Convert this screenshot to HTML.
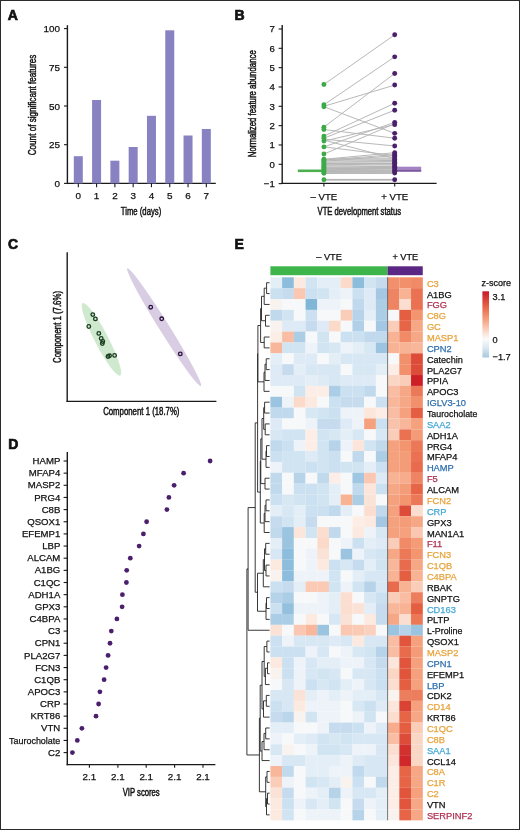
<!DOCTYPE html>
<html><head><meta charset="utf-8"><style>
html,body{margin:0;padding:0;background:#fff;}
svg{display:block;font-family:"Liberation Sans", sans-serif;will-change:transform;}
</style></head><body>
<svg width="520" height="830" viewBox="0 0 520 830">
<rect width="520" height="830" fill="#fff"/>
<text x="7.70" y="19.90" font-size="14.0" text-anchor="start" fill="#111" font-weight="bold" stroke="#111" stroke-width="0.7">A</text>
<text x="234.40" y="20.30" font-size="14.0" text-anchor="start" fill="#111" font-weight="bold" stroke="#111" stroke-width="0.7">B</text>
<text x="7.90" y="248.60" font-size="14.0" text-anchor="start" fill="#111" font-weight="bold" stroke="#111" stroke-width="0.7">C</text>
<text x="8.20" y="448.70" font-size="14.0" text-anchor="start" fill="#111" font-weight="bold" stroke="#111" stroke-width="0.7">D</text>
<text x="234.40" y="248.70" font-size="14.0" text-anchor="start" fill="#111" font-weight="bold" stroke="#111" stroke-width="0.7">E</text>
<line x1="67.40" y1="25.20" x2="67.40" y2="184.10" stroke="#1a1a1a" stroke-width="1.4" />
<line x1="66.70" y1="183.40" x2="215.80" y2="183.40" stroke="#1a1a1a" stroke-width="1.4" />
<line x1="64.00" y1="183.40" x2="67.40" y2="183.40" stroke="#1a1a1a" stroke-width="1.1" />
<text x="60.00" y="186.90" font-size="9.9" text-anchor="end" fill="#111" font-weight="normal" stroke="#111" stroke-width="0.25">0</text>
<line x1="64.00" y1="144.70" x2="67.40" y2="144.70" stroke="#1a1a1a" stroke-width="1.1" />
<text x="60.00" y="148.20" font-size="9.9" text-anchor="end" fill="#111" font-weight="normal" stroke="#111" stroke-width="0.25">25</text>
<line x1="64.00" y1="106.00" x2="67.40" y2="106.00" stroke="#1a1a1a" stroke-width="1.1" />
<text x="60.00" y="109.50" font-size="9.9" text-anchor="end" fill="#111" font-weight="normal" stroke="#111" stroke-width="0.25">50</text>
<line x1="64.00" y1="67.30" x2="67.40" y2="67.30" stroke="#1a1a1a" stroke-width="1.1" />
<text x="60.00" y="70.80" font-size="9.9" text-anchor="end" fill="#111" font-weight="normal" stroke="#111" stroke-width="0.25">75</text>
<line x1="64.00" y1="28.60" x2="67.40" y2="28.60" stroke="#1a1a1a" stroke-width="1.1" />
<text x="60.00" y="32.10" font-size="9.9" text-anchor="end" fill="#111" font-weight="normal" stroke="#111" stroke-width="0.25">100</text>
<rect x="73.80" y="156.20" width="9" height="27.20" fill="#8882c2"/>
<line x1="78.30" y1="183.40" x2="78.30" y2="187.20" stroke="#1a1a1a" stroke-width="1.1" />
<text x="78.30" y="199.10" font-size="9.9" text-anchor="middle" fill="#111" font-weight="normal" stroke="#111" stroke-width="0.25">0</text>
<rect x="92.09" y="100.00" width="9" height="83.40" fill="#8882c2"/>
<line x1="96.59" y1="183.40" x2="96.59" y2="187.20" stroke="#1a1a1a" stroke-width="1.1" />
<text x="96.59" y="199.10" font-size="9.9" text-anchor="middle" fill="#111" font-weight="normal" stroke="#111" stroke-width="0.25">1</text>
<rect x="110.38" y="160.70" width="9" height="22.70" fill="#8882c2"/>
<line x1="114.88" y1="183.40" x2="114.88" y2="187.20" stroke="#1a1a1a" stroke-width="1.1" />
<text x="114.88" y="199.10" font-size="9.9" text-anchor="middle" fill="#111" font-weight="normal" stroke="#111" stroke-width="0.25">2</text>
<rect x="128.67" y="147.00" width="9" height="36.40" fill="#8882c2"/>
<line x1="133.17" y1="183.40" x2="133.17" y2="187.20" stroke="#1a1a1a" stroke-width="1.1" />
<text x="133.17" y="199.10" font-size="9.9" text-anchor="middle" fill="#111" font-weight="normal" stroke="#111" stroke-width="0.25">3</text>
<rect x="146.96" y="115.80" width="9" height="67.60" fill="#8882c2"/>
<line x1="151.46" y1="183.40" x2="151.46" y2="187.20" stroke="#1a1a1a" stroke-width="1.1" />
<text x="151.46" y="199.10" font-size="9.9" text-anchor="middle" fill="#111" font-weight="normal" stroke="#111" stroke-width="0.25">4</text>
<rect x="165.25" y="30.30" width="9" height="153.10" fill="#8882c2"/>
<line x1="169.75" y1="183.40" x2="169.75" y2="187.20" stroke="#1a1a1a" stroke-width="1.1" />
<text x="169.75" y="199.10" font-size="9.9" text-anchor="middle" fill="#111" font-weight="normal" stroke="#111" stroke-width="0.25">5</text>
<rect x="183.54" y="135.50" width="9" height="47.90" fill="#8882c2"/>
<line x1="188.04" y1="183.40" x2="188.04" y2="187.20" stroke="#1a1a1a" stroke-width="1.1" />
<text x="188.04" y="199.10" font-size="9.9" text-anchor="middle" fill="#111" font-weight="normal" stroke="#111" stroke-width="0.25">6</text>
<rect x="201.83" y="129.00" width="9" height="54.40" fill="#8882c2"/>
<line x1="206.33" y1="183.40" x2="206.33" y2="187.20" stroke="#1a1a1a" stroke-width="1.1" />
<text x="206.33" y="199.10" font-size="9.9" text-anchor="middle" fill="#111" font-weight="normal" stroke="#111" stroke-width="0.25">7</text>
<text x="141.00" y="214.60" font-size="10.2" text-anchor="middle" fill="#111" stroke="#111" stroke-width="0.45" textLength="40.5" lengthAdjust="spacingAndGlyphs">Time (days)</text>
<text transform="translate(36.30,105.00) rotate(-90)" x="0" y="0" font-size="10.2" text-anchor="middle" fill="#111" stroke="#111" stroke-width="0.45" textLength="100.5" lengthAdjust="spacingAndGlyphs">Count of significant features</text>
<line x1="282.20" y1="25.00" x2="282.20" y2="184.10" stroke="#1a1a1a" stroke-width="1.4" />
<line x1="281.50" y1="183.40" x2="436.60" y2="183.40" stroke="#1a1a1a" stroke-width="1.4" />
<line x1="278.60" y1="183.63" x2="282.20" y2="183.63" stroke="#1a1a1a" stroke-width="1.1" />
<text x="274.80" y="187.08" font-size="9.6" text-anchor="end" fill="#111" font-weight="normal" stroke="#111" stroke-width="0.25">−1</text>
<line x1="278.60" y1="164.30" x2="282.20" y2="164.30" stroke="#1a1a1a" stroke-width="1.1" />
<text x="274.80" y="167.75" font-size="9.6" text-anchor="end" fill="#111" font-weight="normal" stroke="#111" stroke-width="0.25">0</text>
<line x1="278.60" y1="144.97" x2="282.20" y2="144.97" stroke="#1a1a1a" stroke-width="1.1" />
<text x="274.80" y="148.42" font-size="9.6" text-anchor="end" fill="#111" font-weight="normal" stroke="#111" stroke-width="0.25">1</text>
<line x1="278.60" y1="125.64" x2="282.20" y2="125.64" stroke="#1a1a1a" stroke-width="1.1" />
<text x="274.80" y="129.09" font-size="9.6" text-anchor="end" fill="#111" font-weight="normal" stroke="#111" stroke-width="0.25">2</text>
<line x1="278.60" y1="106.31" x2="282.20" y2="106.31" stroke="#1a1a1a" stroke-width="1.1" />
<text x="274.80" y="109.76" font-size="9.6" text-anchor="end" fill="#111" font-weight="normal" stroke="#111" stroke-width="0.25">3</text>
<line x1="278.60" y1="86.98" x2="282.20" y2="86.98" stroke="#1a1a1a" stroke-width="1.1" />
<text x="274.80" y="90.43" font-size="9.6" text-anchor="end" fill="#111" font-weight="normal" stroke="#111" stroke-width="0.25">4</text>
<line x1="278.60" y1="67.65" x2="282.20" y2="67.65" stroke="#1a1a1a" stroke-width="1.1" />
<text x="274.80" y="71.10" font-size="9.6" text-anchor="end" fill="#111" font-weight="normal" stroke="#111" stroke-width="0.25">5</text>
<line x1="278.60" y1="48.32" x2="282.20" y2="48.32" stroke="#1a1a1a" stroke-width="1.1" />
<text x="274.80" y="51.77" font-size="9.6" text-anchor="end" fill="#111" font-weight="normal" stroke="#111" stroke-width="0.25">6</text>
<line x1="278.60" y1="28.99" x2="282.20" y2="28.99" stroke="#1a1a1a" stroke-width="1.1" />
<text x="274.80" y="32.44" font-size="9.6" text-anchor="end" fill="#111" font-weight="normal" stroke="#111" stroke-width="0.25">7</text>
<line x1="323.90" y1="183.40" x2="323.90" y2="186.60" stroke="#1a1a1a" stroke-width="1.1" />
<line x1="394.70" y1="183.40" x2="394.70" y2="186.60" stroke="#1a1a1a" stroke-width="1.1" />
<text x="323.90" y="199.60" font-size="9.6" text-anchor="middle" fill="#111" font-weight="normal" stroke="#111" stroke-width="0.25">– VTE</text>
<text x="394.70" y="199.60" font-size="9.6" text-anchor="middle" fill="#111" font-weight="normal" stroke="#111" stroke-width="0.25">+ VTE</text>
<text x="359.30" y="214.60" font-size="10.2" text-anchor="middle" fill="#111" stroke="#111" stroke-width="0.45" textLength="83.5" lengthAdjust="spacingAndGlyphs">VTE development status</text>
<text transform="translate(256.20,103.70) rotate(-90)" x="0" y="0" font-size="10.2" text-anchor="middle" fill="#111" stroke="#111" stroke-width="0.45" textLength="107" lengthAdjust="spacingAndGlyphs">Normalized feature abundance</text>
<polygon points="323.9,158.50 394.7,157.34 394.7,173.97 323.9,173.97" fill="#c9c9c9"/>
<line x1="323.90" y1="84.47" x2="394.70" y2="34.79" stroke="#b4b4b4" stroke-width="0.95" />
<line x1="323.90" y1="104.76" x2="394.70" y2="56.83" stroke="#b4b4b4" stroke-width="0.95" />
<line x1="323.90" y1="106.31" x2="394.70" y2="85.05" stroke="#b4b4b4" stroke-width="0.95" />
<line x1="323.90" y1="106.70" x2="394.70" y2="133.37" stroke="#b4b4b4" stroke-width="0.95" />
<line x1="323.90" y1="127.19" x2="394.70" y2="73.45" stroke="#b4b4b4" stroke-width="0.95" />
<line x1="323.90" y1="129.51" x2="394.70" y2="138.20" stroke="#b4b4b4" stroke-width="0.95" />
<line x1="323.90" y1="136.08" x2="394.70" y2="103.22" stroke="#b4b4b4" stroke-width="0.95" />
<line x1="323.90" y1="138.20" x2="394.70" y2="110.18" stroke="#b4b4b4" stroke-width="0.95" />
<line x1="323.90" y1="141.10" x2="394.70" y2="124.67" stroke="#b4b4b4" stroke-width="0.95" />
<line x1="323.90" y1="139.17" x2="394.70" y2="145.94" stroke="#b4b4b4" stroke-width="0.95" />
<line x1="323.90" y1="146.90" x2="394.70" y2="122.35" stroke="#b4b4b4" stroke-width="0.95" />
<line x1="323.90" y1="154.06" x2="394.70" y2="123.71" stroke="#b4b4b4" stroke-width="0.95" />
<line x1="323.90" y1="146.90" x2="394.70" y2="155.60" stroke="#b4b4b4" stroke-width="0.95" />
<line x1="323.90" y1="140.14" x2="394.70" y2="158.50" stroke="#b4b4b4" stroke-width="0.95" />
<line x1="323.90" y1="159.27" x2="394.70" y2="152.70" stroke="#b4b4b4" stroke-width="0.95" />
<line x1="323.90" y1="160.05" x2="394.70" y2="154.64" stroke="#b4b4b4" stroke-width="0.95" />
<line x1="323.90" y1="161.40" x2="394.70" y2="155.60" stroke="#b4b4b4" stroke-width="0.95" />
<line x1="323.90" y1="179.76" x2="394.70" y2="179.76" stroke="#b4b4b4" stroke-width="0.95" />
<line x1="323.90" y1="179.38" x2="394.70" y2="179.38" stroke="#b4b4b4" stroke-width="0.95" />
<line x1="323.90" y1="180.15" x2="394.70" y2="180.15" stroke="#b4b4b4" stroke-width="0.95" />
<line x1="323.90" y1="162.77" x2="394.70" y2="160.33" stroke="#b4b4b4" stroke-width="0.95" />
<line x1="323.90" y1="163.43" x2="394.70" y2="161.16" stroke="#b4b4b4" stroke-width="0.95" />
<line x1="323.90" y1="163.90" x2="394.70" y2="163.37" stroke="#b4b4b4" stroke-width="0.95" />
<line x1="323.90" y1="165.71" x2="394.70" y2="162.55" stroke="#b4b4b4" stroke-width="0.95" />
<line x1="323.90" y1="166.19" x2="394.70" y2="164.92" stroke="#b4b4b4" stroke-width="0.95" />
<line x1="323.90" y1="165.91" x2="394.70" y2="165.34" stroke="#b4b4b4" stroke-width="0.95" />
<line x1="323.90" y1="167.02" x2="394.70" y2="166.29" stroke="#b4b4b4" stroke-width="0.95" />
<line x1="323.90" y1="168.19" x2="394.70" y2="168.01" stroke="#b4b4b4" stroke-width="0.95" />
<line x1="323.90" y1="169.06" x2="394.70" y2="167.31" stroke="#b4b4b4" stroke-width="0.95" />
<line x1="323.90" y1="170.09" x2="394.70" y2="168.57" stroke="#b4b4b4" stroke-width="0.95" />
<line x1="323.90" y1="170.73" x2="394.70" y2="171.11" stroke="#b4b4b4" stroke-width="0.95" />
<line x1="323.90" y1="171.45" x2="394.70" y2="170.85" stroke="#b4b4b4" stroke-width="0.95" />
<line x1="323.90" y1="173.02" x2="394.70" y2="173.12" stroke="#b4b4b4" stroke-width="0.95" />
<line x1="323.90" y1="173.01" x2="394.70" y2="173.06" stroke="#b4b4b4" stroke-width="0.95" />
<line x1="323.90" y1="161.98" x2="394.70" y2="162.37" stroke="#dedede" stroke-width="0.9" />
<line x1="323.90" y1="166.23" x2="394.70" y2="165.27" stroke="#dedede" stroke-width="0.9" />
<line x1="297.80" y1="170.80" x2="325.90" y2="170.80" stroke="#4cb050" stroke-width="2.6" />
<rect x="394.7" y="166.7" width="26.5" height="4.6" fill="#a384c2"/>
<line x1="394.70" y1="171.00" x2="421.20" y2="171.00" stroke="#5e3080" stroke-width="1.1" />
<circle cx="323.9" cy="84.47" r="2.45" fill="#3daa4a"/>
<circle cx="323.9" cy="104.76" r="2.45" fill="#3daa4a"/>
<circle cx="323.9" cy="106.70" r="2.45" fill="#3daa4a"/>
<circle cx="323.9" cy="127.19" r="2.45" fill="#3daa4a"/>
<circle cx="323.9" cy="129.51" r="2.45" fill="#3daa4a"/>
<circle cx="323.9" cy="136.08" r="2.45" fill="#3daa4a"/>
<circle cx="323.9" cy="138.20" r="2.45" fill="#3daa4a"/>
<circle cx="323.9" cy="141.10" r="2.45" fill="#3daa4a"/>
<circle cx="323.9" cy="146.90" r="2.45" fill="#3daa4a"/>
<circle cx="323.9" cy="154.06" r="2.45" fill="#3daa4a"/>
<circle cx="323.9" cy="179.76" r="2.45" fill="#3daa4a"/>
<circle cx="323.9" cy="159.27" r="2.45" fill="#3daa4a"/>
<circle cx="323.9" cy="160.43" r="2.45" fill="#3daa4a"/>
<circle cx="323.9" cy="161.59" r="2.45" fill="#3daa4a"/>
<circle cx="323.9" cy="162.75" r="2.45" fill="#3daa4a"/>
<circle cx="323.9" cy="163.91" r="2.45" fill="#3daa4a"/>
<circle cx="323.9" cy="165.07" r="2.45" fill="#3daa4a"/>
<circle cx="323.9" cy="166.23" r="2.45" fill="#3daa4a"/>
<circle cx="323.9" cy="167.39" r="2.45" fill="#3daa4a"/>
<circle cx="323.9" cy="168.55" r="2.45" fill="#3daa4a"/>
<circle cx="323.9" cy="169.71" r="2.45" fill="#3daa4a"/>
<circle cx="323.9" cy="170.87" r="2.45" fill="#3daa4a"/>
<circle cx="323.9" cy="172.03" r="2.45" fill="#3daa4a"/>
<circle cx="323.9" cy="173.19" r="2.45" fill="#3daa4a"/>
<circle cx="394.7" cy="34.79" r="2.45" fill="#4b1f6b"/>
<circle cx="394.7" cy="56.83" r="2.45" fill="#4b1f6b"/>
<circle cx="394.7" cy="73.45" r="2.45" fill="#4b1f6b"/>
<circle cx="394.7" cy="85.05" r="2.45" fill="#4b1f6b"/>
<circle cx="394.7" cy="103.22" r="2.45" fill="#4b1f6b"/>
<circle cx="394.7" cy="110.18" r="2.45" fill="#4b1f6b"/>
<circle cx="394.7" cy="122.35" r="2.45" fill="#4b1f6b"/>
<circle cx="394.7" cy="124.67" r="2.45" fill="#4b1f6b"/>
<circle cx="394.7" cy="133.37" r="2.45" fill="#4b1f6b"/>
<circle cx="394.7" cy="138.20" r="2.45" fill="#4b1f6b"/>
<circle cx="394.7" cy="145.94" r="2.45" fill="#4b1f6b"/>
<circle cx="394.7" cy="179.76" r="2.45" fill="#4b1f6b"/>
<circle cx="394.7" cy="152.70" r="2.45" fill="#4b1f6b"/>
<circle cx="394.7" cy="154.06" r="2.45" fill="#4b1f6b"/>
<circle cx="394.7" cy="155.41" r="2.45" fill="#4b1f6b"/>
<circle cx="394.7" cy="156.76" r="2.45" fill="#4b1f6b"/>
<circle cx="394.7" cy="158.11" r="2.45" fill="#4b1f6b"/>
<circle cx="394.7" cy="159.47" r="2.45" fill="#4b1f6b"/>
<circle cx="394.7" cy="160.82" r="2.45" fill="#4b1f6b"/>
<circle cx="394.7" cy="162.17" r="2.45" fill="#4b1f6b"/>
<circle cx="394.7" cy="163.53" r="2.45" fill="#4b1f6b"/>
<circle cx="394.7" cy="164.88" r="2.45" fill="#4b1f6b"/>
<circle cx="394.7" cy="166.23" r="2.45" fill="#4b1f6b"/>
<circle cx="394.7" cy="167.59" r="2.45" fill="#4b1f6b"/>
<circle cx="394.7" cy="168.94" r="2.45" fill="#4b1f6b"/>
<circle cx="394.7" cy="170.29" r="2.45" fill="#4b1f6b"/>
<circle cx="394.7" cy="171.65" r="2.45" fill="#4b1f6b"/>
<circle cx="394.7" cy="173.00" r="2.45" fill="#4b1f6b"/>
<line x1="67.20" y1="252.30" x2="67.20" y2="402.10" stroke="#1a1a1a" stroke-width="1.4" />
<line x1="66.50" y1="401.40" x2="216.40" y2="401.40" stroke="#1a1a1a" stroke-width="1.4" />
<ellipse cx="101.5" cy="339.3" rx="40.8" ry="6.8" transform="rotate(62.6 101.5 339.3)" fill="#cfe9cf"/>
<ellipse cx="164.1" cy="327.2" rx="69.4" ry="5.0" transform="rotate(58 164.1 327.2)" fill="#d8cde2"/>
<circle cx="92.8" cy="314.6" r="1.8" fill="none" stroke="#173a1c" stroke-width="1.3"/>
<circle cx="95.4" cy="318.9" r="1.8" fill="none" stroke="#173a1c" stroke-width="1.3"/>
<circle cx="88.8" cy="326.5" r="1.8" fill="none" stroke="#173a1c" stroke-width="1.3"/>
<circle cx="98.8" cy="333.4" r="1.8" fill="none" stroke="#173a1c" stroke-width="1.3"/>
<circle cx="101.2" cy="338.5" r="1.8" fill="none" stroke="#173a1c" stroke-width="1.3"/>
<circle cx="102.8" cy="341.5" r="1.8" fill="none" stroke="#173a1c" stroke-width="1.3"/>
<circle cx="102.3" cy="343.5" r="1.8" fill="none" stroke="#173a1c" stroke-width="1.3"/>
<circle cx="108.0" cy="356.5" r="1.8" fill="none" stroke="#173a1c" stroke-width="1.3"/>
<circle cx="109.5" cy="355.8" r="1.8" fill="none" stroke="#173a1c" stroke-width="1.3"/>
<circle cx="114.6" cy="355.4" r="1.8" fill="none" stroke="#173a1c" stroke-width="1.3"/>
<circle cx="150.7" cy="307.2" r="1.8" fill="none" stroke="#2a0f3c" stroke-width="1.3"/>
<circle cx="161.7" cy="318.8" r="1.8" fill="none" stroke="#2a0f3c" stroke-width="1.3"/>
<circle cx="180.3" cy="353.9" r="1.8" fill="none" stroke="#2a0f3c" stroke-width="1.3"/>
<text x="141.30" y="415.30" font-size="10.2" text-anchor="middle" fill="#111" stroke="#111" stroke-width="0.45" textLength="76.3" lengthAdjust="spacingAndGlyphs">Component 1 (18.7%)</text>
<text transform="translate(60.60,327.00) rotate(-90)" x="0" y="0" font-size="10.2" text-anchor="middle" fill="#111" stroke="#111" stroke-width="0.45" textLength="72" lengthAdjust="spacingAndGlyphs">Component 1 (7.6%)</text>
<line x1="67.30" y1="451.90" x2="67.30" y2="765.30" stroke="#1a1a1a" stroke-width="1.4" />
<line x1="66.60" y1="764.60" x2="215.40" y2="764.60" stroke="#1a1a1a" stroke-width="1.4" />
<line x1="63.60" y1="461.00" x2="67.30" y2="461.00" stroke="#1a1a1a" stroke-width="1.1" />
<text x="60.30" y="464.10" font-size="9.6" text-anchor="end" fill="#111" font-weight="normal" stroke="#111" stroke-width="0.25">HAMP</text>
<circle cx="210.1" cy="461.00" r="2.4" fill="#4b1f6b"/>
<line x1="63.60" y1="473.15" x2="67.30" y2="473.15" stroke="#1a1a1a" stroke-width="1.1" />
<text x="60.30" y="476.25" font-size="9.6" text-anchor="end" fill="#111" font-weight="normal" stroke="#111" stroke-width="0.25">MFAP4</text>
<circle cx="183.6" cy="473.15" r="2.4" fill="#4b1f6b"/>
<line x1="63.60" y1="485.30" x2="67.30" y2="485.30" stroke="#1a1a1a" stroke-width="1.1" />
<text x="60.30" y="488.40" font-size="9.6" text-anchor="end" fill="#111" font-weight="normal" stroke="#111" stroke-width="0.25">MASP2</text>
<circle cx="174.1" cy="485.30" r="2.4" fill="#4b1f6b"/>
<line x1="63.60" y1="497.45" x2="67.30" y2="497.45" stroke="#1a1a1a" stroke-width="1.1" />
<text x="60.30" y="500.55" font-size="9.6" text-anchor="end" fill="#111" font-weight="normal" stroke="#111" stroke-width="0.25">PRG4</text>
<circle cx="168.9" cy="497.45" r="2.4" fill="#4b1f6b"/>
<line x1="63.60" y1="509.60" x2="67.30" y2="509.60" stroke="#1a1a1a" stroke-width="1.1" />
<text x="60.30" y="512.70" font-size="9.6" text-anchor="end" fill="#111" font-weight="normal" stroke="#111" stroke-width="0.25">C8B</text>
<circle cx="166.9" cy="509.60" r="2.4" fill="#4b1f6b"/>
<line x1="63.60" y1="521.75" x2="67.30" y2="521.75" stroke="#1a1a1a" stroke-width="1.1" />
<text x="60.30" y="524.85" font-size="9.6" text-anchor="end" fill="#111" font-weight="normal" stroke="#111" stroke-width="0.25">QSOX1</text>
<circle cx="146.6" cy="521.75" r="2.4" fill="#4b1f6b"/>
<line x1="63.60" y1="533.90" x2="67.30" y2="533.90" stroke="#1a1a1a" stroke-width="1.1" />
<text x="60.30" y="537.00" font-size="9.6" text-anchor="end" fill="#111" font-weight="normal" stroke="#111" stroke-width="0.25">EFEMP1</text>
<circle cx="143.4" cy="533.90" r="2.4" fill="#4b1f6b"/>
<line x1="63.60" y1="546.05" x2="67.30" y2="546.05" stroke="#1a1a1a" stroke-width="1.1" />
<text x="60.30" y="549.15" font-size="9.6" text-anchor="end" fill="#111" font-weight="normal" stroke="#111" stroke-width="0.25">LBP</text>
<circle cx="139.1" cy="546.05" r="2.4" fill="#4b1f6b"/>
<line x1="63.60" y1="558.20" x2="67.30" y2="558.20" stroke="#1a1a1a" stroke-width="1.1" />
<text x="60.30" y="561.30" font-size="9.6" text-anchor="end" fill="#111" font-weight="normal" stroke="#111" stroke-width="0.25">ALCAM</text>
<circle cx="130.3" cy="558.20" r="2.4" fill="#4b1f6b"/>
<line x1="63.60" y1="570.35" x2="67.30" y2="570.35" stroke="#1a1a1a" stroke-width="1.1" />
<text x="60.30" y="573.45" font-size="9.6" text-anchor="end" fill="#111" font-weight="normal" stroke="#111" stroke-width="0.25">A1BG</text>
<circle cx="126.7" cy="570.35" r="2.4" fill="#4b1f6b"/>
<line x1="63.60" y1="582.50" x2="67.30" y2="582.50" stroke="#1a1a1a" stroke-width="1.1" />
<text x="60.30" y="585.60" font-size="9.6" text-anchor="end" fill="#111" font-weight="normal" stroke="#111" stroke-width="0.25">C1QC</text>
<circle cx="126.4" cy="582.50" r="2.4" fill="#4b1f6b"/>
<line x1="63.60" y1="594.65" x2="67.30" y2="594.65" stroke="#1a1a1a" stroke-width="1.1" />
<text x="60.30" y="597.75" font-size="9.6" text-anchor="end" fill="#111" font-weight="normal" stroke="#111" stroke-width="0.25">ADH1A</text>
<circle cx="122.4" cy="594.65" r="2.4" fill="#4b1f6b"/>
<line x1="63.60" y1="606.80" x2="67.30" y2="606.80" stroke="#1a1a1a" stroke-width="1.1" />
<text x="60.30" y="609.90" font-size="9.6" text-anchor="end" fill="#111" font-weight="normal" stroke="#111" stroke-width="0.25">GPX3</text>
<circle cx="122.1" cy="606.80" r="2.4" fill="#4b1f6b"/>
<line x1="63.60" y1="618.95" x2="67.30" y2="618.95" stroke="#1a1a1a" stroke-width="1.1" />
<text x="60.30" y="622.05" font-size="9.6" text-anchor="end" fill="#111" font-weight="normal" stroke="#111" stroke-width="0.25">C4BPA</text>
<circle cx="116.9" cy="618.95" r="2.4" fill="#4b1f6b"/>
<line x1="63.60" y1="631.10" x2="67.30" y2="631.10" stroke="#1a1a1a" stroke-width="1.1" />
<text x="60.30" y="634.20" font-size="9.6" text-anchor="end" fill="#111" font-weight="normal" stroke="#111" stroke-width="0.25">C3</text>
<circle cx="111.3" cy="631.10" r="2.4" fill="#4b1f6b"/>
<line x1="63.60" y1="643.25" x2="67.30" y2="643.25" stroke="#1a1a1a" stroke-width="1.1" />
<text x="60.30" y="646.35" font-size="9.6" text-anchor="end" fill="#111" font-weight="normal" stroke="#111" stroke-width="0.25">CPN1</text>
<circle cx="110.0" cy="643.25" r="2.4" fill="#4b1f6b"/>
<line x1="63.60" y1="655.40" x2="67.30" y2="655.40" stroke="#1a1a1a" stroke-width="1.1" />
<text x="60.30" y="658.50" font-size="9.6" text-anchor="end" fill="#111" font-weight="normal" stroke="#111" stroke-width="0.25">PLA2G7</text>
<circle cx="108.1" cy="655.40" r="2.4" fill="#4b1f6b"/>
<line x1="63.60" y1="667.55" x2="67.30" y2="667.55" stroke="#1a1a1a" stroke-width="1.1" />
<text x="60.30" y="670.65" font-size="9.6" text-anchor="end" fill="#111" font-weight="normal" stroke="#111" stroke-width="0.25">FCN3</text>
<circle cx="106.1" cy="667.55" r="2.4" fill="#4b1f6b"/>
<line x1="63.60" y1="679.70" x2="67.30" y2="679.70" stroke="#1a1a1a" stroke-width="1.1" />
<text x="60.30" y="682.80" font-size="9.6" text-anchor="end" fill="#111" font-weight="normal" stroke="#111" stroke-width="0.25">C1QB</text>
<circle cx="104.1" cy="679.70" r="2.4" fill="#4b1f6b"/>
<line x1="63.60" y1="691.85" x2="67.30" y2="691.85" stroke="#1a1a1a" stroke-width="1.1" />
<text x="60.30" y="694.95" font-size="9.6" text-anchor="end" fill="#111" font-weight="normal" stroke="#111" stroke-width="0.25">APOC3</text>
<circle cx="99.9" cy="691.85" r="2.4" fill="#4b1f6b"/>
<line x1="63.60" y1="704.00" x2="67.30" y2="704.00" stroke="#1a1a1a" stroke-width="1.1" />
<text x="60.30" y="707.10" font-size="9.6" text-anchor="end" fill="#111" font-weight="normal" stroke="#111" stroke-width="0.25">CRP</text>
<circle cx="98.6" cy="704.00" r="2.4" fill="#4b1f6b"/>
<line x1="63.60" y1="716.15" x2="67.30" y2="716.15" stroke="#1a1a1a" stroke-width="1.1" />
<text x="60.30" y="719.25" font-size="9.6" text-anchor="end" fill="#111" font-weight="normal" stroke="#111" stroke-width="0.25">KRT86</text>
<circle cx="96.0" cy="716.15" r="2.4" fill="#4b1f6b"/>
<line x1="63.60" y1="728.30" x2="67.30" y2="728.30" stroke="#1a1a1a" stroke-width="1.1" />
<text x="60.30" y="731.40" font-size="9.6" text-anchor="end" fill="#111" font-weight="normal" stroke="#111" stroke-width="0.25">VTN</text>
<circle cx="81.9" cy="728.30" r="2.4" fill="#4b1f6b"/>
<line x1="63.60" y1="740.45" x2="67.30" y2="740.45" stroke="#1a1a1a" stroke-width="1.1" />
<text x="60.3" y="743.55" font-size="9.6" text-anchor="end" fill="#111" stroke="#111" stroke-width="0.25" textLength="51.3" lengthAdjust="spacingAndGlyphs">Taurocholate</text>
<circle cx="77.3" cy="740.45" r="2.4" fill="#4b1f6b"/>
<line x1="63.60" y1="752.60" x2="67.30" y2="752.60" stroke="#1a1a1a" stroke-width="1.1" />
<text x="60.30" y="755.70" font-size="9.6" text-anchor="end" fill="#111" font-weight="normal" stroke="#111" stroke-width="0.25">C2</text>
<circle cx="72.4" cy="752.60" r="2.4" fill="#4b1f6b"/>
<line x1="89.40" y1="764.60" x2="89.40" y2="767.80" stroke="#1a1a1a" stroke-width="1.1" />
<text x="89.40" y="779.80" font-size="9.8" text-anchor="middle" fill="#111" font-weight="normal" stroke="#111" stroke-width="0.25">2.1</text>
<line x1="117.90" y1="764.60" x2="117.90" y2="767.80" stroke="#1a1a1a" stroke-width="1.1" />
<text x="117.90" y="779.80" font-size="9.8" text-anchor="middle" fill="#111" font-weight="normal" stroke="#111" stroke-width="0.25">2.1</text>
<line x1="146.20" y1="764.60" x2="146.20" y2="767.80" stroke="#1a1a1a" stroke-width="1.1" />
<text x="146.20" y="779.80" font-size="9.8" text-anchor="middle" fill="#111" font-weight="normal" stroke="#111" stroke-width="0.25">2.1</text>
<line x1="174.60" y1="764.60" x2="174.60" y2="767.80" stroke="#1a1a1a" stroke-width="1.1" />
<text x="174.60" y="779.80" font-size="9.8" text-anchor="middle" fill="#111" font-weight="normal" stroke="#111" stroke-width="0.25">2.1</text>
<line x1="203.00" y1="764.60" x2="203.00" y2="767.80" stroke="#1a1a1a" stroke-width="1.1" />
<text x="203.00" y="779.80" font-size="9.8" text-anchor="middle" fill="#111" font-weight="normal" stroke="#111" stroke-width="0.25">2.1</text>
<text x="141.20" y="796.00" font-size="10.2" text-anchor="middle" fill="#111" stroke="#111" stroke-width="0.45" textLength="37" lengthAdjust="spacingAndGlyphs">VIP scores</text>
<text x="329.00" y="260.20" font-size="9.2" text-anchor="middle" fill="#111" font-weight="normal" stroke="#111" stroke-width="0.25">– VTE</text>
<text x="405.30" y="260.20" font-size="9.2" text-anchor="middle" fill="#111" font-weight="normal" stroke="#111" stroke-width="0.25">+ VTE</text>
<rect x="270.4" y="266.3" width="117.20" height="8.9" fill="#3db54a"/>
<rect x="387.60" y="266.3" width="35.16" height="8.9" fill="#5b2784"/>
<rect x="270.40" y="277.30" width="11.77" height="10.91" fill="#e4eef7"/>
<rect x="282.12" y="277.30" width="11.77" height="10.91" fill="#8cbddc"/>
<rect x="293.84" y="277.30" width="11.77" height="10.91" fill="#fceae0"/>
<rect x="305.56" y="277.30" width="11.77" height="10.91" fill="#d1e4f2"/>
<rect x="317.28" y="277.30" width="11.77" height="10.91" fill="#e4eef7"/>
<rect x="329.00" y="277.30" width="11.77" height="10.91" fill="#e4eef7"/>
<rect x="340.72" y="277.30" width="11.77" height="10.91" fill="#fbdaca"/>
<rect x="352.44" y="277.30" width="11.77" height="10.91" fill="#8cbddc"/>
<rect x="364.16" y="277.30" width="11.77" height="10.91" fill="#d1e4f2"/>
<rect x="375.88" y="277.30" width="11.77" height="10.91" fill="#c6dcee"/>
<rect x="387.60" y="277.30" width="11.77" height="10.91" fill="#f1906b"/>
<rect x="399.32" y="277.30" width="11.77" height="10.91" fill="#f1906b"/>
<rect x="411.04" y="277.30" width="11.77" height="10.91" fill="#f08a67"/>
<rect x="270.40" y="288.16" width="11.77" height="10.91" fill="#cbe0f0"/>
<rect x="282.12" y="288.16" width="11.77" height="10.91" fill="#c6dcee"/>
<rect x="293.84" y="288.16" width="11.77" height="10.91" fill="#fac8b2"/>
<rect x="305.56" y="288.16" width="11.77" height="10.91" fill="#cbe0f0"/>
<rect x="317.28" y="288.16" width="11.77" height="10.91" fill="#d1e4f2"/>
<rect x="329.00" y="288.16" width="11.77" height="10.91" fill="#e4eef7"/>
<rect x="340.72" y="288.16" width="11.77" height="10.91" fill="#edf3f8"/>
<rect x="352.44" y="288.16" width="11.77" height="10.91" fill="#cbe0f0"/>
<rect x="364.16" y="288.16" width="11.77" height="10.91" fill="#deeaf5"/>
<rect x="375.88" y="288.16" width="11.77" height="10.91" fill="#a4c8e3"/>
<rect x="387.60" y="288.16" width="11.77" height="10.91" fill="#ee8462"/>
<rect x="399.32" y="288.16" width="11.77" height="10.91" fill="#f8b294"/>
<rect x="411.04" y="288.16" width="11.77" height="10.91" fill="#ea7252"/>
<rect x="270.40" y="299.02" width="11.77" height="10.91" fill="#f9f3f0"/>
<rect x="282.12" y="299.02" width="11.77" height="10.91" fill="#f6f8fa"/>
<rect x="293.84" y="299.02" width="11.77" height="10.91" fill="#f6f8fa"/>
<rect x="305.56" y="299.02" width="11.77" height="10.91" fill="#80b7d7"/>
<rect x="317.28" y="299.02" width="11.77" height="10.91" fill="#edf3f8"/>
<rect x="329.00" y="299.02" width="11.77" height="10.91" fill="#edf3f8"/>
<rect x="340.72" y="299.02" width="11.77" height="10.91" fill="#f6f8fa"/>
<rect x="352.44" y="299.02" width="11.77" height="10.91" fill="#c0d9ec"/>
<rect x="364.16" y="299.02" width="11.77" height="10.91" fill="#deeaf5"/>
<rect x="375.88" y="299.02" width="11.77" height="10.91" fill="#accde6"/>
<rect x="387.60" y="299.02" width="11.77" height="10.91" fill="#ee8462"/>
<rect x="399.32" y="299.02" width="11.77" height="10.91" fill="#fbded0"/>
<rect x="411.04" y="299.02" width="11.77" height="10.91" fill="#ea7252"/>
<rect x="270.40" y="309.88" width="11.77" height="10.91" fill="#c0d9ec"/>
<rect x="282.12" y="309.88" width="11.77" height="10.91" fill="#d1e4f2"/>
<rect x="293.84" y="309.88" width="11.77" height="10.91" fill="#f6f8fa"/>
<rect x="305.56" y="309.88" width="11.77" height="10.91" fill="#cbe0f0"/>
<rect x="317.28" y="309.88" width="11.77" height="10.91" fill="#f6f8fa"/>
<rect x="329.00" y="309.88" width="11.77" height="10.91" fill="#f6f8fa"/>
<rect x="340.72" y="309.88" width="11.77" height="10.91" fill="#facdb9"/>
<rect x="352.44" y="309.88" width="11.77" height="10.91" fill="#b6d3e9"/>
<rect x="364.16" y="309.88" width="11.77" height="10.91" fill="#e4eef7"/>
<rect x="375.88" y="309.88" width="11.77" height="10.91" fill="#accde6"/>
<rect x="387.60" y="309.88" width="11.77" height="10.91" fill="#f6f8fa"/>
<rect x="399.32" y="309.88" width="11.77" height="10.91" fill="#e45e42"/>
<rect x="411.04" y="309.88" width="11.77" height="10.91" fill="#f39670"/>
<rect x="270.40" y="320.74" width="11.77" height="10.91" fill="#f9f3f0"/>
<rect x="282.12" y="320.74" width="11.77" height="10.91" fill="#deeaf5"/>
<rect x="293.84" y="320.74" width="11.77" height="10.91" fill="#deeaf5"/>
<rect x="305.56" y="320.74" width="11.77" height="10.91" fill="#c6dcee"/>
<rect x="317.28" y="320.74" width="11.77" height="10.91" fill="#deeaf5"/>
<rect x="329.00" y="320.74" width="11.77" height="10.91" fill="#fbdaca"/>
<rect x="340.72" y="320.74" width="11.77" height="10.91" fill="#f6f8fa"/>
<rect x="352.44" y="320.74" width="11.77" height="10.91" fill="#b1d0e8"/>
<rect x="364.16" y="320.74" width="11.77" height="10.91" fill="#f6f8fa"/>
<rect x="375.88" y="320.74" width="11.77" height="10.91" fill="#a4c8e3"/>
<rect x="387.60" y="320.74" width="11.77" height="10.91" fill="#facdb9"/>
<rect x="399.32" y="320.74" width="11.77" height="10.91" fill="#e66547"/>
<rect x="411.04" y="320.74" width="11.77" height="10.91" fill="#f6a786"/>
<rect x="270.40" y="331.60" width="11.77" height="10.91" fill="#fceee6"/>
<rect x="282.12" y="331.60" width="11.77" height="10.91" fill="#f9bda3"/>
<rect x="293.84" y="331.60" width="11.77" height="10.91" fill="#accde6"/>
<rect x="305.56" y="331.60" width="11.77" height="10.91" fill="#f6f8fa"/>
<rect x="317.28" y="331.60" width="11.77" height="10.91" fill="#d1e4f2"/>
<rect x="329.00" y="331.60" width="11.77" height="10.91" fill="#f6f8fa"/>
<rect x="340.72" y="331.60" width="11.77" height="10.91" fill="#cbe0f0"/>
<rect x="352.44" y="331.60" width="11.77" height="10.91" fill="#cbe0f0"/>
<rect x="364.16" y="331.60" width="11.77" height="10.91" fill="#c0d9ec"/>
<rect x="375.88" y="331.60" width="11.77" height="10.91" fill="#c0d9ec"/>
<rect x="387.60" y="331.60" width="11.77" height="10.91" fill="#f8b294"/>
<rect x="399.32" y="331.60" width="11.77" height="10.91" fill="#f08a67"/>
<rect x="411.04" y="331.60" width="11.77" height="10.91" fill="#f6a786"/>
<rect x="270.40" y="342.46" width="11.77" height="10.91" fill="#f8b79b"/>
<rect x="282.12" y="342.46" width="11.77" height="10.91" fill="#d1e4f2"/>
<rect x="293.84" y="342.46" width="11.77" height="10.91" fill="#d1e4f2"/>
<rect x="305.56" y="342.46" width="11.77" height="10.91" fill="#edf3f8"/>
<rect x="317.28" y="342.46" width="11.77" height="10.91" fill="#d1e4f2"/>
<rect x="329.00" y="342.46" width="11.77" height="10.91" fill="#d7e7f3"/>
<rect x="340.72" y="342.46" width="11.77" height="10.91" fill="#edf3f8"/>
<rect x="352.44" y="342.46" width="11.77" height="10.91" fill="#e4eef7"/>
<rect x="364.16" y="342.46" width="11.77" height="10.91" fill="#d7e7f3"/>
<rect x="375.88" y="342.46" width="11.77" height="10.91" fill="#9bc4e0"/>
<rect x="387.60" y="342.46" width="11.77" height="10.91" fill="#f8b294"/>
<rect x="399.32" y="342.46" width="11.77" height="10.91" fill="#f8b294"/>
<rect x="411.04" y="342.46" width="11.77" height="10.91" fill="#f8b79b"/>
<rect x="270.40" y="353.32" width="11.77" height="10.91" fill="#e4eef7"/>
<rect x="282.12" y="353.32" width="11.77" height="10.91" fill="#f6f8fa"/>
<rect x="293.84" y="353.32" width="11.77" height="10.91" fill="#deeaf5"/>
<rect x="305.56" y="353.32" width="11.77" height="10.91" fill="#deeaf5"/>
<rect x="317.28" y="353.32" width="11.77" height="10.91" fill="#f6f8fa"/>
<rect x="329.00" y="353.32" width="11.77" height="10.91" fill="#e4eef7"/>
<rect x="340.72" y="353.32" width="11.77" height="10.91" fill="#d7e7f3"/>
<rect x="352.44" y="353.32" width="11.77" height="10.91" fill="#d7e7f3"/>
<rect x="364.16" y="353.32" width="11.77" height="10.91" fill="#d7e7f3"/>
<rect x="375.88" y="353.32" width="11.77" height="10.91" fill="#d7e7f3"/>
<rect x="387.60" y="353.32" width="11.77" height="10.91" fill="#f6f8fa"/>
<rect x="399.32" y="353.32" width="11.77" height="10.91" fill="#f1906b"/>
<rect x="411.04" y="353.32" width="11.77" height="10.91" fill="#dd4b39"/>
<rect x="270.40" y="364.18" width="11.77" height="10.91" fill="#deeaf5"/>
<rect x="282.12" y="364.18" width="11.77" height="10.91" fill="#c6dcee"/>
<rect x="293.84" y="364.18" width="11.77" height="10.91" fill="#e4eef7"/>
<rect x="305.56" y="364.18" width="11.77" height="10.91" fill="#d7e7f3"/>
<rect x="317.28" y="364.18" width="11.77" height="10.91" fill="#d7e7f3"/>
<rect x="329.00" y="364.18" width="11.77" height="10.91" fill="#d7e7f3"/>
<rect x="340.72" y="364.18" width="11.77" height="10.91" fill="#f6f8fa"/>
<rect x="352.44" y="364.18" width="11.77" height="10.91" fill="#d7e7f3"/>
<rect x="364.16" y="364.18" width="11.77" height="10.91" fill="#d7e7f3"/>
<rect x="375.88" y="364.18" width="11.77" height="10.91" fill="#e4eef7"/>
<rect x="387.60" y="364.18" width="11.77" height="10.91" fill="#fceee6"/>
<rect x="399.32" y="364.18" width="11.77" height="10.91" fill="#f1906b"/>
<rect x="411.04" y="364.18" width="11.77" height="10.91" fill="#dd4b39"/>
<rect x="270.40" y="375.04" width="11.77" height="10.91" fill="#deeaf5"/>
<rect x="282.12" y="375.04" width="11.77" height="10.91" fill="#deeaf5"/>
<rect x="293.84" y="375.04" width="11.77" height="10.91" fill="#deeaf5"/>
<rect x="305.56" y="375.04" width="11.77" height="10.91" fill="#e4eef7"/>
<rect x="317.28" y="375.04" width="11.77" height="10.91" fill="#deeaf5"/>
<rect x="329.00" y="375.04" width="11.77" height="10.91" fill="#d7e7f3"/>
<rect x="340.72" y="375.04" width="11.77" height="10.91" fill="#deeaf5"/>
<rect x="352.44" y="375.04" width="11.77" height="10.91" fill="#deeaf5"/>
<rect x="364.16" y="375.04" width="11.77" height="10.91" fill="#deeaf5"/>
<rect x="375.88" y="375.04" width="11.77" height="10.91" fill="#f6f8fa"/>
<rect x="387.60" y="375.04" width="11.77" height="10.91" fill="#fad6c4"/>
<rect x="399.32" y="375.04" width="11.77" height="10.91" fill="#facdb9"/>
<rect x="411.04" y="375.04" width="11.77" height="10.91" fill="#cc1f26"/>
<rect x="270.40" y="385.90" width="11.77" height="10.91" fill="#f6f8fa"/>
<rect x="282.12" y="385.90" width="11.77" height="10.91" fill="#f6f8fa"/>
<rect x="293.84" y="385.90" width="11.77" height="10.91" fill="#d1e4f2"/>
<rect x="305.56" y="385.90" width="11.77" height="10.91" fill="#fceee6"/>
<rect x="317.28" y="385.90" width="11.77" height="10.91" fill="#fceee6"/>
<rect x="329.00" y="385.90" width="11.77" height="10.91" fill="#accde6"/>
<rect x="340.72" y="385.90" width="11.77" height="10.91" fill="#cbe0f0"/>
<rect x="352.44" y="385.90" width="11.77" height="10.91" fill="#cbe0f0"/>
<rect x="364.16" y="385.90" width="11.77" height="10.91" fill="#c0d9ec"/>
<rect x="375.88" y="385.90" width="11.77" height="10.91" fill="#f6f8fa"/>
<rect x="387.60" y="385.90" width="11.77" height="10.91" fill="#f9bda3"/>
<rect x="399.32" y="385.90" width="11.77" height="10.91" fill="#f6a786"/>
<rect x="411.04" y="385.90" width="11.77" height="10.91" fill="#eb7857"/>
<rect x="270.40" y="396.76" width="11.77" height="10.91" fill="#9bc4e0"/>
<rect x="282.12" y="396.76" width="11.77" height="10.91" fill="#edf3f8"/>
<rect x="293.84" y="396.76" width="11.77" height="10.91" fill="#fbdaca"/>
<rect x="305.56" y="396.76" width="11.77" height="10.91" fill="#fceae0"/>
<rect x="317.28" y="396.76" width="11.77" height="10.91" fill="#f6f8fa"/>
<rect x="329.00" y="396.76" width="11.77" height="10.91" fill="#cbe0f0"/>
<rect x="340.72" y="396.76" width="11.77" height="10.91" fill="#c6dcee"/>
<rect x="352.44" y="396.76" width="11.77" height="10.91" fill="#c6dcee"/>
<rect x="364.16" y="396.76" width="11.77" height="10.91" fill="#f6f8fa"/>
<rect x="375.88" y="396.76" width="11.77" height="10.91" fill="#cbe0f0"/>
<rect x="387.60" y="396.76" width="11.77" height="10.91" fill="#f8b79b"/>
<rect x="399.32" y="396.76" width="11.77" height="10.91" fill="#f6a786"/>
<rect x="411.04" y="396.76" width="11.77" height="10.91" fill="#f1906b"/>
<rect x="270.40" y="407.62" width="11.77" height="10.91" fill="#c0d9ec"/>
<rect x="282.12" y="407.62" width="11.77" height="10.91" fill="#c0d9ec"/>
<rect x="293.84" y="407.62" width="11.77" height="10.91" fill="#f6f8fa"/>
<rect x="305.56" y="407.62" width="11.77" height="10.91" fill="#d7e7f3"/>
<rect x="317.28" y="407.62" width="11.77" height="10.91" fill="#d1e4f2"/>
<rect x="329.00" y="407.62" width="11.77" height="10.91" fill="#cbe0f0"/>
<rect x="340.72" y="407.62" width="11.77" height="10.91" fill="#edf3f8"/>
<rect x="352.44" y="407.62" width="11.77" height="10.91" fill="#edf3f8"/>
<rect x="364.16" y="407.62" width="11.77" height="10.91" fill="#fce6db"/>
<rect x="375.88" y="407.62" width="11.77" height="10.91" fill="#fceee6"/>
<rect x="387.60" y="407.62" width="11.77" height="10.91" fill="#f9bda3"/>
<rect x="399.32" y="407.62" width="11.77" height="10.91" fill="#f5a17e"/>
<rect x="411.04" y="407.62" width="11.77" height="10.91" fill="#e45e42"/>
<rect x="270.40" y="418.48" width="11.77" height="10.91" fill="#deeaf5"/>
<rect x="282.12" y="418.48" width="11.77" height="10.91" fill="#f6f8fa"/>
<rect x="293.84" y="418.48" width="11.77" height="10.91" fill="#f6f8fa"/>
<rect x="305.56" y="418.48" width="11.77" height="10.91" fill="#edf3f8"/>
<rect x="317.28" y="418.48" width="11.77" height="10.91" fill="#c6dcee"/>
<rect x="329.00" y="418.48" width="11.77" height="10.91" fill="#c6dcee"/>
<rect x="340.72" y="418.48" width="11.77" height="10.91" fill="#deeaf5"/>
<rect x="352.44" y="418.48" width="11.77" height="10.91" fill="#edf3f8"/>
<rect x="364.16" y="418.48" width="11.77" height="10.91" fill="#f5a17e"/>
<rect x="375.88" y="418.48" width="11.77" height="10.91" fill="#cbe0f0"/>
<rect x="387.60" y="418.48" width="11.77" height="10.91" fill="#f9c2aa"/>
<rect x="399.32" y="418.48" width="11.77" height="10.91" fill="#f8b79b"/>
<rect x="411.04" y="418.48" width="11.77" height="10.91" fill="#f5a17e"/>
<rect x="270.40" y="429.34" width="11.77" height="10.91" fill="#d7e7f3"/>
<rect x="282.12" y="429.34" width="11.77" height="10.91" fill="#d1e4f2"/>
<rect x="293.84" y="429.34" width="11.77" height="10.91" fill="#d1e4f2"/>
<rect x="305.56" y="429.34" width="11.77" height="10.91" fill="#fceee6"/>
<rect x="317.28" y="429.34" width="11.77" height="10.91" fill="#d1e4f2"/>
<rect x="329.00" y="429.34" width="11.77" height="10.91" fill="#d7e7f3"/>
<rect x="340.72" y="429.34" width="11.77" height="10.91" fill="#e4eef7"/>
<rect x="352.44" y="429.34" width="11.77" height="10.91" fill="#d7e7f3"/>
<rect x="364.16" y="429.34" width="11.77" height="10.91" fill="#f6f8fa"/>
<rect x="375.88" y="429.34" width="11.77" height="10.91" fill="#d7e7f3"/>
<rect x="387.60" y="429.34" width="11.77" height="10.91" fill="#facdb9"/>
<rect x="399.32" y="429.34" width="11.77" height="10.91" fill="#ea7252"/>
<rect x="411.04" y="429.34" width="11.77" height="10.91" fill="#f49c77"/>
<rect x="270.40" y="440.20" width="11.77" height="10.91" fill="#c0d9ec"/>
<rect x="282.12" y="440.20" width="11.77" height="10.91" fill="#cbe0f0"/>
<rect x="293.84" y="440.20" width="11.77" height="10.91" fill="#edf3f8"/>
<rect x="305.56" y="440.20" width="11.77" height="10.91" fill="#fceee6"/>
<rect x="317.28" y="440.20" width="11.77" height="10.91" fill="#d1e4f2"/>
<rect x="329.00" y="440.20" width="11.77" height="10.91" fill="#b6d3e9"/>
<rect x="340.72" y="440.20" width="11.77" height="10.91" fill="#edf3f8"/>
<rect x="352.44" y="440.20" width="11.77" height="10.91" fill="#fce6db"/>
<rect x="364.16" y="440.20" width="11.77" height="10.91" fill="#d1e4f2"/>
<rect x="375.88" y="440.20" width="11.77" height="10.91" fill="#c0d9ec"/>
<rect x="387.60" y="440.20" width="11.77" height="10.91" fill="#f5a17e"/>
<rect x="399.32" y="440.20" width="11.77" height="10.91" fill="#f39670"/>
<rect x="411.04" y="440.20" width="11.77" height="10.91" fill="#eb7857"/>
<rect x="270.40" y="451.06" width="11.77" height="10.91" fill="#cbe0f0"/>
<rect x="282.12" y="451.06" width="11.77" height="10.91" fill="#d1e4f2"/>
<rect x="293.84" y="451.06" width="11.77" height="10.91" fill="#d1e4f2"/>
<rect x="305.56" y="451.06" width="11.77" height="10.91" fill="#deeaf5"/>
<rect x="317.28" y="451.06" width="11.77" height="10.91" fill="#d1e4f2"/>
<rect x="329.00" y="451.06" width="11.77" height="10.91" fill="#cbe0f0"/>
<rect x="340.72" y="451.06" width="11.77" height="10.91" fill="#f6f8fa"/>
<rect x="352.44" y="451.06" width="11.77" height="10.91" fill="#c0d9ec"/>
<rect x="364.16" y="451.06" width="11.77" height="10.91" fill="#f6f8fa"/>
<rect x="375.88" y="451.06" width="11.77" height="10.91" fill="#accde6"/>
<rect x="387.60" y="451.06" width="11.77" height="10.91" fill="#f5a17e"/>
<rect x="399.32" y="451.06" width="11.77" height="10.91" fill="#f49c77"/>
<rect x="411.04" y="451.06" width="11.77" height="10.91" fill="#ea7252"/>
<rect x="270.40" y="461.92" width="11.77" height="10.91" fill="#edf3f8"/>
<rect x="282.12" y="461.92" width="11.77" height="10.91" fill="#d1e4f2"/>
<rect x="293.84" y="461.92" width="11.77" height="10.91" fill="#d1e4f2"/>
<rect x="305.56" y="461.92" width="11.77" height="10.91" fill="#cbe0f0"/>
<rect x="317.28" y="461.92" width="11.77" height="10.91" fill="#d1e4f2"/>
<rect x="329.00" y="461.92" width="11.77" height="10.91" fill="#cbe0f0"/>
<rect x="340.72" y="461.92" width="11.77" height="10.91" fill="#d1e4f2"/>
<rect x="352.44" y="461.92" width="11.77" height="10.91" fill="#d1e4f2"/>
<rect x="364.16" y="461.92" width="11.77" height="10.91" fill="#e4eef7"/>
<rect x="375.88" y="461.92" width="11.77" height="10.91" fill="#cbe0f0"/>
<rect x="387.60" y="461.92" width="11.77" height="10.91" fill="#f5a17e"/>
<rect x="399.32" y="461.92" width="11.77" height="10.91" fill="#f49c77"/>
<rect x="411.04" y="461.92" width="11.77" height="10.91" fill="#e86b4d"/>
<rect x="270.40" y="472.78" width="11.77" height="10.91" fill="#c0d9ec"/>
<rect x="282.12" y="472.78" width="11.77" height="10.91" fill="#f6f8fa"/>
<rect x="293.84" y="472.78" width="11.77" height="10.91" fill="#b6d3e9"/>
<rect x="305.56" y="472.78" width="11.77" height="10.91" fill="#f6f8fa"/>
<rect x="317.28" y="472.78" width="11.77" height="10.91" fill="#c0d9ec"/>
<rect x="329.00" y="472.78" width="11.77" height="10.91" fill="#fceee6"/>
<rect x="340.72" y="472.78" width="11.77" height="10.91" fill="#f6f8fa"/>
<rect x="352.44" y="472.78" width="11.77" height="10.91" fill="#9fc6e2"/>
<rect x="364.16" y="472.78" width="11.77" height="10.91" fill="#fac8b2"/>
<rect x="375.88" y="472.78" width="11.77" height="10.91" fill="#deeaf5"/>
<rect x="387.60" y="472.78" width="11.77" height="10.91" fill="#f8b294"/>
<rect x="399.32" y="472.78" width="11.77" height="10.91" fill="#f7ac8d"/>
<rect x="411.04" y="472.78" width="11.77" height="10.91" fill="#ee8462"/>
<rect x="270.40" y="483.64" width="11.77" height="10.91" fill="#c0d9ec"/>
<rect x="282.12" y="483.64" width="11.77" height="10.91" fill="#f6f8fa"/>
<rect x="293.84" y="483.64" width="11.77" height="10.91" fill="#cbe0f0"/>
<rect x="305.56" y="483.64" width="11.77" height="10.91" fill="#cbe0f0"/>
<rect x="317.28" y="483.64" width="11.77" height="10.91" fill="#d1e4f2"/>
<rect x="329.00" y="483.64" width="11.77" height="10.91" fill="#e4eef7"/>
<rect x="340.72" y="483.64" width="11.77" height="10.91" fill="#f6f8fa"/>
<rect x="352.44" y="483.64" width="11.77" height="10.91" fill="#c0d9ec"/>
<rect x="364.16" y="483.64" width="11.77" height="10.91" fill="#fce6db"/>
<rect x="375.88" y="483.64" width="11.77" height="10.91" fill="#cbe0f0"/>
<rect x="387.60" y="483.64" width="11.77" height="10.91" fill="#f6a786"/>
<rect x="399.32" y="483.64" width="11.77" height="10.91" fill="#f49c77"/>
<rect x="411.04" y="483.64" width="11.77" height="10.91" fill="#e66547"/>
<rect x="270.40" y="494.50" width="11.77" height="10.91" fill="#cbe0f0"/>
<rect x="282.12" y="494.50" width="11.77" height="10.91" fill="#d7e7f3"/>
<rect x="293.84" y="494.50" width="11.77" height="10.91" fill="#d1e4f2"/>
<rect x="305.56" y="494.50" width="11.77" height="10.91" fill="#cbe0f0"/>
<rect x="317.28" y="494.50" width="11.77" height="10.91" fill="#d1e4f2"/>
<rect x="329.00" y="494.50" width="11.77" height="10.91" fill="#e4eef7"/>
<rect x="340.72" y="494.50" width="11.77" height="10.91" fill="#f8b294"/>
<rect x="352.44" y="494.50" width="11.77" height="10.91" fill="#accde6"/>
<rect x="364.16" y="494.50" width="11.77" height="10.91" fill="#fbe2d6"/>
<rect x="375.88" y="494.50" width="11.77" height="10.91" fill="#f6f8fa"/>
<rect x="387.60" y="494.50" width="11.77" height="10.91" fill="#f5a17e"/>
<rect x="399.32" y="494.50" width="11.77" height="10.91" fill="#f39670"/>
<rect x="411.04" y="494.50" width="11.77" height="10.91" fill="#eb7857"/>
<rect x="270.40" y="505.36" width="11.77" height="10.91" fill="#e4eef7"/>
<rect x="282.12" y="505.36" width="11.77" height="10.91" fill="#d7e7f3"/>
<rect x="293.84" y="505.36" width="11.77" height="10.91" fill="#e4eef7"/>
<rect x="305.56" y="505.36" width="11.77" height="10.91" fill="#cbe0f0"/>
<rect x="317.28" y="505.36" width="11.77" height="10.91" fill="#cbe0f0"/>
<rect x="329.00" y="505.36" width="11.77" height="10.91" fill="#c0d9ec"/>
<rect x="340.72" y="505.36" width="11.77" height="10.91" fill="#e4eef7"/>
<rect x="352.44" y="505.36" width="11.77" height="10.91" fill="#f6f8fa"/>
<rect x="364.16" y="505.36" width="11.77" height="10.91" fill="#fbded0"/>
<rect x="375.88" y="505.36" width="11.77" height="10.91" fill="#c0d9ec"/>
<rect x="387.60" y="505.36" width="11.77" height="10.91" fill="#f5a17e"/>
<rect x="399.32" y="505.36" width="11.77" height="10.91" fill="#dd4b39"/>
<rect x="411.04" y="505.36" width="11.77" height="10.91" fill="#fbded0"/>
<rect x="270.40" y="516.22" width="11.77" height="10.91" fill="#c6dcee"/>
<rect x="282.12" y="516.22" width="11.77" height="10.91" fill="#d1e4f2"/>
<rect x="293.84" y="516.22" width="11.77" height="10.91" fill="#e4eef7"/>
<rect x="305.56" y="516.22" width="11.77" height="10.91" fill="#c6dcee"/>
<rect x="317.28" y="516.22" width="11.77" height="10.91" fill="#f6f8fa"/>
<rect x="329.00" y="516.22" width="11.77" height="10.91" fill="#f6f8fa"/>
<rect x="340.72" y="516.22" width="11.77" height="10.91" fill="#f6f8fa"/>
<rect x="352.44" y="516.22" width="11.77" height="10.91" fill="#fceee6"/>
<rect x="364.16" y="516.22" width="11.77" height="10.91" fill="#fceae0"/>
<rect x="375.88" y="516.22" width="11.77" height="10.91" fill="#a4c8e3"/>
<rect x="387.60" y="516.22" width="11.77" height="10.91" fill="#f5a17e"/>
<rect x="399.32" y="516.22" width="11.77" height="10.91" fill="#f49c77"/>
<rect x="411.04" y="516.22" width="11.77" height="10.91" fill="#f6a786"/>
<rect x="270.40" y="527.08" width="11.77" height="10.91" fill="#c0d9ec"/>
<rect x="282.12" y="527.08" width="11.77" height="10.91" fill="#9bc4e0"/>
<rect x="293.84" y="527.08" width="11.77" height="10.91" fill="#fce6db"/>
<rect x="305.56" y="527.08" width="11.77" height="10.91" fill="#d1e4f2"/>
<rect x="317.28" y="527.08" width="11.77" height="10.91" fill="#fbded0"/>
<rect x="329.00" y="527.08" width="11.77" height="10.91" fill="#c0d9ec"/>
<rect x="340.72" y="527.08" width="11.77" height="10.91" fill="#f6f8fa"/>
<rect x="352.44" y="527.08" width="11.77" height="10.91" fill="#fceae0"/>
<rect x="364.16" y="527.08" width="11.77" height="10.91" fill="#edf3f8"/>
<rect x="375.88" y="527.08" width="11.77" height="10.91" fill="#d7e7f3"/>
<rect x="387.60" y="527.08" width="11.77" height="10.91" fill="#f5a17e"/>
<rect x="399.32" y="527.08" width="11.77" height="10.91" fill="#f5a17e"/>
<rect x="411.04" y="527.08" width="11.77" height="10.91" fill="#fac8b2"/>
<rect x="270.40" y="537.94" width="11.77" height="10.91" fill="#e4eef7"/>
<rect x="282.12" y="537.94" width="11.77" height="10.91" fill="#9bc4e0"/>
<rect x="293.84" y="537.94" width="11.77" height="10.91" fill="#f6f8fa"/>
<rect x="305.56" y="537.94" width="11.77" height="10.91" fill="#f6f8fa"/>
<rect x="317.28" y="537.94" width="11.77" height="10.91" fill="#fbdaca"/>
<rect x="329.00" y="537.94" width="11.77" height="10.91" fill="#f6f8fa"/>
<rect x="340.72" y="537.94" width="11.77" height="10.91" fill="#edf3f8"/>
<rect x="352.44" y="537.94" width="11.77" height="10.91" fill="#cbe0f0"/>
<rect x="364.16" y="537.94" width="11.77" height="10.91" fill="#e4eef7"/>
<rect x="375.88" y="537.94" width="11.77" height="10.91" fill="#deeaf5"/>
<rect x="387.60" y="537.94" width="11.77" height="10.91" fill="#facdb9"/>
<rect x="399.32" y="537.94" width="11.77" height="10.91" fill="#f08a67"/>
<rect x="411.04" y="537.94" width="11.77" height="10.91" fill="#f49c77"/>
<rect x="270.40" y="548.80" width="11.77" height="10.91" fill="#d7e7f3"/>
<rect x="282.12" y="548.80" width="11.77" height="10.91" fill="#8cbddc"/>
<rect x="293.84" y="548.80" width="11.77" height="10.91" fill="#f6f8fa"/>
<rect x="305.56" y="548.80" width="11.77" height="10.91" fill="#edf3f8"/>
<rect x="317.28" y="548.80" width="11.77" height="10.91" fill="#fbe2d6"/>
<rect x="329.00" y="548.80" width="11.77" height="10.91" fill="#f6f8fa"/>
<rect x="340.72" y="548.80" width="11.77" height="10.91" fill="#9bc4e0"/>
<rect x="352.44" y="548.80" width="11.77" height="10.91" fill="#edf3f8"/>
<rect x="364.16" y="548.80" width="11.77" height="10.91" fill="#d7e7f3"/>
<rect x="375.88" y="548.80" width="11.77" height="10.91" fill="#d1e4f2"/>
<rect x="387.60" y="548.80" width="11.77" height="10.91" fill="#f6a786"/>
<rect x="399.32" y="548.80" width="11.77" height="10.91" fill="#eb7857"/>
<rect x="411.04" y="548.80" width="11.77" height="10.91" fill="#f39670"/>
<rect x="270.40" y="559.66" width="11.77" height="10.91" fill="#fceae0"/>
<rect x="282.12" y="559.66" width="11.77" height="10.91" fill="#8cbddc"/>
<rect x="293.84" y="559.66" width="11.77" height="10.91" fill="#f6f8fa"/>
<rect x="305.56" y="559.66" width="11.77" height="10.91" fill="#edf3f8"/>
<rect x="317.28" y="559.66" width="11.77" height="10.91" fill="#fceae0"/>
<rect x="329.00" y="559.66" width="11.77" height="10.91" fill="#cbe0f0"/>
<rect x="340.72" y="559.66" width="11.77" height="10.91" fill="#d7e7f3"/>
<rect x="352.44" y="559.66" width="11.77" height="10.91" fill="#c6dcee"/>
<rect x="364.16" y="559.66" width="11.77" height="10.91" fill="#e4eef7"/>
<rect x="375.88" y="559.66" width="11.77" height="10.91" fill="#d1e4f2"/>
<rect x="387.60" y="559.66" width="11.77" height="10.91" fill="#f8b79b"/>
<rect x="399.32" y="559.66" width="11.77" height="10.91" fill="#e86b4d"/>
<rect x="411.04" y="559.66" width="11.77" height="10.91" fill="#f6a786"/>
<rect x="270.40" y="570.52" width="11.77" height="10.91" fill="#f9f3f0"/>
<rect x="282.12" y="570.52" width="11.77" height="10.91" fill="#8cbddc"/>
<rect x="293.84" y="570.52" width="11.77" height="10.91" fill="#edf3f8"/>
<rect x="305.56" y="570.52" width="11.77" height="10.91" fill="#edf3f8"/>
<rect x="317.28" y="570.52" width="11.77" height="10.91" fill="#edf3f8"/>
<rect x="329.00" y="570.52" width="11.77" height="10.91" fill="#d1e4f2"/>
<rect x="340.72" y="570.52" width="11.77" height="10.91" fill="#f6f8fa"/>
<rect x="352.44" y="570.52" width="11.77" height="10.91" fill="#e4eef7"/>
<rect x="364.16" y="570.52" width="11.77" height="10.91" fill="#d7e7f3"/>
<rect x="375.88" y="570.52" width="11.77" height="10.91" fill="#d7e7f3"/>
<rect x="387.60" y="570.52" width="11.77" height="10.91" fill="#f8b294"/>
<rect x="399.32" y="570.52" width="11.77" height="10.91" fill="#e45e42"/>
<rect x="411.04" y="570.52" width="11.77" height="10.91" fill="#f8b294"/>
<rect x="270.40" y="581.38" width="11.77" height="10.91" fill="#cbe0f0"/>
<rect x="282.12" y="581.38" width="11.77" height="10.91" fill="#c6dcee"/>
<rect x="293.84" y="581.38" width="11.77" height="10.91" fill="#e4eef7"/>
<rect x="305.56" y="581.38" width="11.77" height="10.91" fill="#facab5"/>
<rect x="317.28" y="581.38" width="11.77" height="10.91" fill="#facab5"/>
<rect x="329.00" y="581.38" width="11.77" height="10.91" fill="#d1e4f2"/>
<rect x="340.72" y="581.38" width="11.77" height="10.91" fill="#edf3f8"/>
<rect x="352.44" y="581.38" width="11.77" height="10.91" fill="#d1e4f2"/>
<rect x="364.16" y="581.38" width="11.77" height="10.91" fill="#b6d3e9"/>
<rect x="375.88" y="581.38" width="11.77" height="10.91" fill="#d7e7f3"/>
<rect x="387.60" y="581.38" width="11.77" height="10.91" fill="#e86b4d"/>
<rect x="399.32" y="581.38" width="11.77" height="10.91" fill="#f8b294"/>
<rect x="411.04" y="581.38" width="11.77" height="10.91" fill="#facdb9"/>
<rect x="270.40" y="592.24" width="11.77" height="10.91" fill="#b6d3e9"/>
<rect x="282.12" y="592.24" width="11.77" height="10.91" fill="#accde6"/>
<rect x="293.84" y="592.24" width="11.77" height="10.91" fill="#f6f8fa"/>
<rect x="305.56" y="592.24" width="11.77" height="10.91" fill="#f6f8fa"/>
<rect x="317.28" y="592.24" width="11.77" height="10.91" fill="#edf3f8"/>
<rect x="329.00" y="592.24" width="11.77" height="10.91" fill="#e4eef7"/>
<rect x="340.72" y="592.24" width="11.77" height="10.91" fill="#fbded0"/>
<rect x="352.44" y="592.24" width="11.77" height="10.91" fill="#f6f8fa"/>
<rect x="364.16" y="592.24" width="11.77" height="10.91" fill="#d7e7f3"/>
<rect x="375.88" y="592.24" width="11.77" height="10.91" fill="#cbe0f0"/>
<rect x="387.60" y="592.24" width="11.77" height="10.91" fill="#facdb9"/>
<rect x="399.32" y="592.24" width="11.77" height="10.91" fill="#f9bda3"/>
<rect x="411.04" y="592.24" width="11.77" height="10.91" fill="#ed7e5d"/>
<rect x="270.40" y="603.10" width="11.77" height="10.91" fill="#cbe0f0"/>
<rect x="282.12" y="603.10" width="11.77" height="10.91" fill="#94c0de"/>
<rect x="293.84" y="603.10" width="11.77" height="10.91" fill="#edf3f8"/>
<rect x="305.56" y="603.10" width="11.77" height="10.91" fill="#edf3f8"/>
<rect x="317.28" y="603.10" width="11.77" height="10.91" fill="#edf3f8"/>
<rect x="329.00" y="603.10" width="11.77" height="10.91" fill="#e4eef7"/>
<rect x="340.72" y="603.10" width="11.77" height="10.91" fill="#fbded0"/>
<rect x="352.44" y="603.10" width="11.77" height="10.91" fill="#fbe2d6"/>
<rect x="364.16" y="603.10" width="11.77" height="10.91" fill="#e4eef7"/>
<rect x="375.88" y="603.10" width="11.77" height="10.91" fill="#c6dcee"/>
<rect x="387.60" y="603.10" width="11.77" height="10.91" fill="#f8b79b"/>
<rect x="399.32" y="603.10" width="11.77" height="10.91" fill="#f8b294"/>
<rect x="411.04" y="603.10" width="11.77" height="10.91" fill="#e45e42"/>
<rect x="270.40" y="613.96" width="11.77" height="10.91" fill="#accde6"/>
<rect x="282.12" y="613.96" width="11.77" height="10.91" fill="#accde6"/>
<rect x="293.84" y="613.96" width="11.77" height="10.91" fill="#f6f8fa"/>
<rect x="305.56" y="613.96" width="11.77" height="10.91" fill="#fceae0"/>
<rect x="317.28" y="613.96" width="11.77" height="10.91" fill="#f6f8fa"/>
<rect x="329.00" y="613.96" width="11.77" height="10.91" fill="#d7e7f3"/>
<rect x="340.72" y="613.96" width="11.77" height="10.91" fill="#fbe2d6"/>
<rect x="352.44" y="613.96" width="11.77" height="10.91" fill="#f6f8fa"/>
<rect x="364.16" y="613.96" width="11.77" height="10.91" fill="#fceae0"/>
<rect x="375.88" y="613.96" width="11.77" height="10.91" fill="#c6dcee"/>
<rect x="387.60" y="613.96" width="11.77" height="10.91" fill="#f6a786"/>
<rect x="399.32" y="613.96" width="11.77" height="10.91" fill="#fbded0"/>
<rect x="411.04" y="613.96" width="11.77" height="10.91" fill="#eb7857"/>
<rect x="270.40" y="624.82" width="11.77" height="10.91" fill="#fbe2d6"/>
<rect x="282.12" y="624.82" width="11.77" height="10.91" fill="#f6f8fa"/>
<rect x="293.84" y="624.82" width="11.77" height="10.91" fill="#fac8b2"/>
<rect x="305.56" y="624.82" width="11.77" height="10.91" fill="#f8b79b"/>
<rect x="317.28" y="624.82" width="11.77" height="10.91" fill="#9bc4e0"/>
<rect x="329.00" y="624.82" width="11.77" height="10.91" fill="#f6f8fa"/>
<rect x="340.72" y="624.82" width="11.77" height="10.91" fill="#fac8b2"/>
<rect x="352.44" y="624.82" width="11.77" height="10.91" fill="#facab5"/>
<rect x="364.16" y="624.82" width="11.77" height="10.91" fill="#fad1bf"/>
<rect x="375.88" y="624.82" width="11.77" height="10.91" fill="#f6f8fa"/>
<rect x="387.60" y="624.82" width="11.77" height="10.91" fill="#9bc4e0"/>
<rect x="399.32" y="624.82" width="11.77" height="10.91" fill="#b6d3e9"/>
<rect x="411.04" y="624.82" width="11.77" height="10.91" fill="#9bc4e0"/>
<rect x="270.40" y="635.68" width="11.77" height="10.91" fill="#cbe0f0"/>
<rect x="282.12" y="635.68" width="11.77" height="10.91" fill="#edf3f8"/>
<rect x="293.84" y="635.68" width="11.77" height="10.91" fill="#d7e7f3"/>
<rect x="305.56" y="635.68" width="11.77" height="10.91" fill="#d7e7f3"/>
<rect x="317.28" y="635.68" width="11.77" height="10.91" fill="#d7e7f3"/>
<rect x="329.00" y="635.68" width="11.77" height="10.91" fill="#deeaf5"/>
<rect x="340.72" y="635.68" width="11.77" height="10.91" fill="#d7e7f3"/>
<rect x="352.44" y="635.68" width="11.77" height="10.91" fill="#fceae0"/>
<rect x="364.16" y="635.68" width="11.77" height="10.91" fill="#d7e7f3"/>
<rect x="375.88" y="635.68" width="11.77" height="10.91" fill="#d7e7f3"/>
<rect x="387.60" y="635.68" width="11.77" height="10.91" fill="#f9bda3"/>
<rect x="399.32" y="635.68" width="11.77" height="10.91" fill="#e1553d"/>
<rect x="411.04" y="635.68" width="11.77" height="10.91" fill="#f5a17e"/>
<rect x="270.40" y="646.54" width="11.77" height="10.91" fill="#cbe0f0"/>
<rect x="282.12" y="646.54" width="11.77" height="10.91" fill="#cbe0f0"/>
<rect x="293.84" y="646.54" width="11.77" height="10.91" fill="#cbe0f0"/>
<rect x="305.56" y="646.54" width="11.77" height="10.91" fill="#edf3f8"/>
<rect x="317.28" y="646.54" width="11.77" height="10.91" fill="#d7e7f3"/>
<rect x="329.00" y="646.54" width="11.77" height="10.91" fill="#f6f8fa"/>
<rect x="340.72" y="646.54" width="11.77" height="10.91" fill="#edf3f8"/>
<rect x="352.44" y="646.54" width="11.77" height="10.91" fill="#d7e7f3"/>
<rect x="364.16" y="646.54" width="11.77" height="10.91" fill="#d1e4f2"/>
<rect x="375.88" y="646.54" width="11.77" height="10.91" fill="#b6d3e9"/>
<rect x="387.60" y="646.54" width="11.77" height="10.91" fill="#f9bda3"/>
<rect x="399.32" y="646.54" width="11.77" height="10.91" fill="#e86b4d"/>
<rect x="411.04" y="646.54" width="11.77" height="10.91" fill="#f49c77"/>
<rect x="270.40" y="657.40" width="11.77" height="10.91" fill="#fceae0"/>
<rect x="282.12" y="657.40" width="11.77" height="10.91" fill="#cbe0f0"/>
<rect x="293.84" y="657.40" width="11.77" height="10.91" fill="#edf3f8"/>
<rect x="305.56" y="657.40" width="11.77" height="10.91" fill="#d7e7f3"/>
<rect x="317.28" y="657.40" width="11.77" height="10.91" fill="#e4eef7"/>
<rect x="329.00" y="657.40" width="11.77" height="10.91" fill="#e4eef7"/>
<rect x="340.72" y="657.40" width="11.77" height="10.91" fill="#edf3f8"/>
<rect x="352.44" y="657.40" width="11.77" height="10.91" fill="#edf3f8"/>
<rect x="364.16" y="657.40" width="11.77" height="10.91" fill="#d7e7f3"/>
<rect x="375.88" y="657.40" width="11.77" height="10.91" fill="#c6dcee"/>
<rect x="387.60" y="657.40" width="11.77" height="10.91" fill="#fce6db"/>
<rect x="399.32" y="657.40" width="11.77" height="10.91" fill="#e1553d"/>
<rect x="411.04" y="657.40" width="11.77" height="10.91" fill="#f5a17e"/>
<rect x="270.40" y="668.26" width="11.77" height="10.91" fill="#f9f3f0"/>
<rect x="282.12" y="668.26" width="11.77" height="10.91" fill="#cbe0f0"/>
<rect x="293.84" y="668.26" width="11.77" height="10.91" fill="#edf3f8"/>
<rect x="305.56" y="668.26" width="11.77" height="10.91" fill="#d7e7f3"/>
<rect x="317.28" y="668.26" width="11.77" height="10.91" fill="#d1e4f2"/>
<rect x="329.00" y="668.26" width="11.77" height="10.91" fill="#d7e7f3"/>
<rect x="340.72" y="668.26" width="11.77" height="10.91" fill="#f6f8fa"/>
<rect x="352.44" y="668.26" width="11.77" height="10.91" fill="#d7e7f3"/>
<rect x="364.16" y="668.26" width="11.77" height="10.91" fill="#d7e7f3"/>
<rect x="375.88" y="668.26" width="11.77" height="10.91" fill="#cbe0f0"/>
<rect x="387.60" y="668.26" width="11.77" height="10.91" fill="#fad6c4"/>
<rect x="399.32" y="668.26" width="11.77" height="10.91" fill="#e1553d"/>
<rect x="411.04" y="668.26" width="11.77" height="10.91" fill="#f5a17e"/>
<rect x="270.40" y="679.12" width="11.77" height="10.91" fill="#f6f8fa"/>
<rect x="282.12" y="679.12" width="11.77" height="10.91" fill="#d7e7f3"/>
<rect x="293.84" y="679.12" width="11.77" height="10.91" fill="#edf3f8"/>
<rect x="305.56" y="679.12" width="11.77" height="10.91" fill="#cbe0f0"/>
<rect x="317.28" y="679.12" width="11.77" height="10.91" fill="#d7e7f3"/>
<rect x="329.00" y="679.12" width="11.77" height="10.91" fill="#d1e4f2"/>
<rect x="340.72" y="679.12" width="11.77" height="10.91" fill="#e4eef7"/>
<rect x="352.44" y="679.12" width="11.77" height="10.91" fill="#edf3f8"/>
<rect x="364.16" y="679.12" width="11.77" height="10.91" fill="#d7e7f3"/>
<rect x="375.88" y="679.12" width="11.77" height="10.91" fill="#cbe0f0"/>
<rect x="387.60" y="679.12" width="11.77" height="10.91" fill="#fbded0"/>
<rect x="399.32" y="679.12" width="11.77" height="10.91" fill="#e45e42"/>
<rect x="411.04" y="679.12" width="11.77" height="10.91" fill="#f5a17e"/>
<rect x="270.40" y="689.98" width="11.77" height="10.91" fill="#d7e7f3"/>
<rect x="282.12" y="689.98" width="11.77" height="10.91" fill="#d7e7f3"/>
<rect x="293.84" y="689.98" width="11.77" height="10.91" fill="#fbe2d6"/>
<rect x="305.56" y="689.98" width="11.77" height="10.91" fill="#e4eef7"/>
<rect x="317.28" y="689.98" width="11.77" height="10.91" fill="#edf3f8"/>
<rect x="329.00" y="689.98" width="11.77" height="10.91" fill="#e4eef7"/>
<rect x="340.72" y="689.98" width="11.77" height="10.91" fill="#edf3f8"/>
<rect x="352.44" y="689.98" width="11.77" height="10.91" fill="#e4eef7"/>
<rect x="364.16" y="689.98" width="11.77" height="10.91" fill="#e4eef7"/>
<rect x="375.88" y="689.98" width="11.77" height="10.91" fill="#d7e7f3"/>
<rect x="387.60" y="689.98" width="11.77" height="10.91" fill="#f9f3f0"/>
<rect x="399.32" y="689.98" width="11.77" height="10.91" fill="#ed7e5d"/>
<rect x="411.04" y="689.98" width="11.77" height="10.91" fill="#ed7e5d"/>
<rect x="270.40" y="700.84" width="11.77" height="10.91" fill="#cbe0f0"/>
<rect x="282.12" y="700.84" width="11.77" height="10.91" fill="#d7e7f3"/>
<rect x="293.84" y="700.84" width="11.77" height="10.91" fill="#fceae0"/>
<rect x="305.56" y="700.84" width="11.77" height="10.91" fill="#edf3f8"/>
<rect x="317.28" y="700.84" width="11.77" height="10.91" fill="#edf3f8"/>
<rect x="329.00" y="700.84" width="11.77" height="10.91" fill="#edf3f8"/>
<rect x="340.72" y="700.84" width="11.77" height="10.91" fill="#f6f8fa"/>
<rect x="352.44" y="700.84" width="11.77" height="10.91" fill="#d7e7f3"/>
<rect x="364.16" y="700.84" width="11.77" height="10.91" fill="#cbe0f0"/>
<rect x="375.88" y="700.84" width="11.77" height="10.91" fill="#deeaf5"/>
<rect x="387.60" y="700.84" width="11.77" height="10.91" fill="#fce6db"/>
<rect x="399.32" y="700.84" width="11.77" height="10.91" fill="#da4234"/>
<rect x="411.04" y="700.84" width="11.77" height="10.91" fill="#f5a17e"/>
<rect x="270.40" y="711.70" width="11.77" height="10.91" fill="#c6dcee"/>
<rect x="282.12" y="711.70" width="11.77" height="10.91" fill="#bbd6ea"/>
<rect x="293.84" y="711.70" width="11.77" height="10.91" fill="#f9f3f0"/>
<rect x="305.56" y="711.70" width="11.77" height="10.91" fill="#d1e4f2"/>
<rect x="317.28" y="711.70" width="11.77" height="10.91" fill="#edf3f8"/>
<rect x="329.00" y="711.70" width="11.77" height="10.91" fill="#edf3f8"/>
<rect x="340.72" y="711.70" width="11.77" height="10.91" fill="#f6f8fa"/>
<rect x="352.44" y="711.70" width="11.77" height="10.91" fill="#edf3f8"/>
<rect x="364.16" y="711.70" width="11.77" height="10.91" fill="#d1e4f2"/>
<rect x="375.88" y="711.70" width="11.77" height="10.91" fill="#f6f8fa"/>
<rect x="387.60" y="711.70" width="11.77" height="10.91" fill="#fbded0"/>
<rect x="399.32" y="711.70" width="11.77" height="10.91" fill="#e66547"/>
<rect x="411.04" y="711.70" width="11.77" height="10.91" fill="#f6a786"/>
<rect x="270.40" y="722.56" width="11.77" height="10.91" fill="#e4eef7"/>
<rect x="282.12" y="722.56" width="11.77" height="10.91" fill="#e4eef7"/>
<rect x="293.84" y="722.56" width="11.77" height="10.91" fill="#f6f8fa"/>
<rect x="305.56" y="722.56" width="11.77" height="10.91" fill="#f6f8fa"/>
<rect x="317.28" y="722.56" width="11.77" height="10.91" fill="#edf3f8"/>
<rect x="329.00" y="722.56" width="11.77" height="10.91" fill="#c6dcee"/>
<rect x="340.72" y="722.56" width="11.77" height="10.91" fill="#c6dcee"/>
<rect x="352.44" y="722.56" width="11.77" height="10.91" fill="#cbe0f0"/>
<rect x="364.16" y="722.56" width="11.77" height="10.91" fill="#edf3f8"/>
<rect x="375.88" y="722.56" width="11.77" height="10.91" fill="#deeaf5"/>
<rect x="387.60" y="722.56" width="11.77" height="10.91" fill="#f7ac8d"/>
<rect x="399.32" y="722.56" width="11.77" height="10.91" fill="#e45e42"/>
<rect x="411.04" y="722.56" width="11.77" height="10.91" fill="#facdb9"/>
<rect x="270.40" y="733.42" width="11.77" height="10.91" fill="#edf3f8"/>
<rect x="282.12" y="733.42" width="11.77" height="10.91" fill="#f6f8fa"/>
<rect x="293.84" y="733.42" width="11.77" height="10.91" fill="#e4eef7"/>
<rect x="305.56" y="733.42" width="11.77" height="10.91" fill="#deeaf5"/>
<rect x="317.28" y="733.42" width="11.77" height="10.91" fill="#d1e4f2"/>
<rect x="329.00" y="733.42" width="11.77" height="10.91" fill="#d7e7f3"/>
<rect x="340.72" y="733.42" width="11.77" height="10.91" fill="#d1e4f2"/>
<rect x="352.44" y="733.42" width="11.77" height="10.91" fill="#d7e7f3"/>
<rect x="364.16" y="733.42" width="11.77" height="10.91" fill="#d7e7f3"/>
<rect x="375.88" y="733.42" width="11.77" height="10.91" fill="#d7e7f3"/>
<rect x="387.60" y="733.42" width="11.77" height="10.91" fill="#f9bda3"/>
<rect x="399.32" y="733.42" width="11.77" height="10.91" fill="#dd4b39"/>
<rect x="411.04" y="733.42" width="11.77" height="10.91" fill="#fad6c4"/>
<rect x="270.40" y="744.28" width="11.77" height="10.91" fill="#d7e7f3"/>
<rect x="282.12" y="744.28" width="11.77" height="10.91" fill="#f9f3f0"/>
<rect x="293.84" y="744.28" width="11.77" height="10.91" fill="#f6f8fa"/>
<rect x="305.56" y="744.28" width="11.77" height="10.91" fill="#edf3f8"/>
<rect x="317.28" y="744.28" width="11.77" height="10.91" fill="#d1e4f2"/>
<rect x="329.00" y="744.28" width="11.77" height="10.91" fill="#d1e4f2"/>
<rect x="340.72" y="744.28" width="11.77" height="10.91" fill="#d7e7f3"/>
<rect x="352.44" y="744.28" width="11.77" height="10.91" fill="#edf3f8"/>
<rect x="364.16" y="744.28" width="11.77" height="10.91" fill="#edf3f8"/>
<rect x="375.88" y="744.28" width="11.77" height="10.91" fill="#d7e7f3"/>
<rect x="387.60" y="744.28" width="11.77" height="10.91" fill="#fbded0"/>
<rect x="399.32" y="744.28" width="11.77" height="10.91" fill="#d3312d"/>
<rect x="411.04" y="744.28" width="11.77" height="10.91" fill="#fad6c4"/>
<rect x="270.40" y="755.14" width="11.77" height="10.91" fill="#edf3f8"/>
<rect x="282.12" y="755.14" width="11.77" height="10.91" fill="#d7e7f3"/>
<rect x="293.84" y="755.14" width="11.77" height="10.91" fill="#d7e7f3"/>
<rect x="305.56" y="755.14" width="11.77" height="10.91" fill="#e4eef7"/>
<rect x="317.28" y="755.14" width="11.77" height="10.91" fill="#e4eef7"/>
<rect x="329.00" y="755.14" width="11.77" height="10.91" fill="#e4eef7"/>
<rect x="340.72" y="755.14" width="11.77" height="10.91" fill="#edf3f8"/>
<rect x="352.44" y="755.14" width="11.77" height="10.91" fill="#deeaf5"/>
<rect x="364.16" y="755.14" width="11.77" height="10.91" fill="#d7e7f3"/>
<rect x="375.88" y="755.14" width="11.77" height="10.91" fill="#d7e7f3"/>
<rect x="387.60" y="755.14" width="11.77" height="10.91" fill="#fce6db"/>
<rect x="399.32" y="755.14" width="11.77" height="10.91" fill="#d0282a"/>
<rect x="411.04" y="755.14" width="11.77" height="10.91" fill="#fad6c4"/>
<rect x="270.40" y="766.00" width="11.77" height="10.91" fill="#f8b79b"/>
<rect x="282.12" y="766.00" width="11.77" height="10.91" fill="#c0d9ec"/>
<rect x="293.84" y="766.00" width="11.77" height="10.91" fill="#f6f8fa"/>
<rect x="305.56" y="766.00" width="11.77" height="10.91" fill="#e4eef7"/>
<rect x="317.28" y="766.00" width="11.77" height="10.91" fill="#e4eef7"/>
<rect x="329.00" y="766.00" width="11.77" height="10.91" fill="#edf3f8"/>
<rect x="340.72" y="766.00" width="11.77" height="10.91" fill="#edf3f8"/>
<rect x="352.44" y="766.00" width="11.77" height="10.91" fill="#c0d9ec"/>
<rect x="364.16" y="766.00" width="11.77" height="10.91" fill="#d7e7f3"/>
<rect x="375.88" y="766.00" width="11.77" height="10.91" fill="#d7e7f3"/>
<rect x="387.60" y="766.00" width="11.77" height="10.91" fill="#fceee6"/>
<rect x="399.32" y="766.00" width="11.77" height="10.91" fill="#e66547"/>
<rect x="411.04" y="766.00" width="11.77" height="10.91" fill="#f6a786"/>
<rect x="270.40" y="776.86" width="11.77" height="10.91" fill="#facdb9"/>
<rect x="282.12" y="776.86" width="11.77" height="10.91" fill="#edf3f8"/>
<rect x="293.84" y="776.86" width="11.77" height="10.91" fill="#f6f8fa"/>
<rect x="305.56" y="776.86" width="11.77" height="10.91" fill="#d1e4f2"/>
<rect x="317.28" y="776.86" width="11.77" height="10.91" fill="#d7e7f3"/>
<rect x="329.00" y="776.86" width="11.77" height="10.91" fill="#e4eef7"/>
<rect x="340.72" y="776.86" width="11.77" height="10.91" fill="#f9f3f0"/>
<rect x="352.44" y="776.86" width="11.77" height="10.91" fill="#cbe0f0"/>
<rect x="364.16" y="776.86" width="11.77" height="10.91" fill="#f6f8fa"/>
<rect x="375.88" y="776.86" width="11.77" height="10.91" fill="#c0d9ec"/>
<rect x="387.60" y="776.86" width="11.77" height="10.91" fill="#fceee6"/>
<rect x="399.32" y="776.86" width="11.77" height="10.91" fill="#e66547"/>
<rect x="411.04" y="776.86" width="11.77" height="10.91" fill="#f6a786"/>
<rect x="270.40" y="787.72" width="11.77" height="10.91" fill="#fbe2d6"/>
<rect x="282.12" y="787.72" width="11.77" height="10.91" fill="#c6dcee"/>
<rect x="293.84" y="787.72" width="11.77" height="10.91" fill="#f6f8fa"/>
<rect x="305.56" y="787.72" width="11.77" height="10.91" fill="#edf3f8"/>
<rect x="317.28" y="787.72" width="11.77" height="10.91" fill="#e4eef7"/>
<rect x="329.00" y="787.72" width="11.77" height="10.91" fill="#b6d3e9"/>
<rect x="340.72" y="787.72" width="11.77" height="10.91" fill="#edf3f8"/>
<rect x="352.44" y="787.72" width="11.77" height="10.91" fill="#d7e7f3"/>
<rect x="364.16" y="787.72" width="11.77" height="10.91" fill="#d7e7f3"/>
<rect x="375.88" y="787.72" width="11.77" height="10.91" fill="#e4eef7"/>
<rect x="387.60" y="787.72" width="11.77" height="10.91" fill="#fceee6"/>
<rect x="399.32" y="787.72" width="11.77" height="10.91" fill="#e1553d"/>
<rect x="411.04" y="787.72" width="11.77" height="10.91" fill="#f5a17e"/>
<rect x="270.40" y="798.58" width="11.77" height="10.91" fill="#fceae0"/>
<rect x="282.12" y="798.58" width="11.77" height="10.91" fill="#cbe0f0"/>
<rect x="293.84" y="798.58" width="11.77" height="10.91" fill="#edf3f8"/>
<rect x="305.56" y="798.58" width="11.77" height="10.91" fill="#d7e7f3"/>
<rect x="317.28" y="798.58" width="11.77" height="10.91" fill="#e4eef7"/>
<rect x="329.00" y="798.58" width="11.77" height="10.91" fill="#d1e4f2"/>
<rect x="340.72" y="798.58" width="11.77" height="10.91" fill="#f6f8fa"/>
<rect x="352.44" y="798.58" width="11.77" height="10.91" fill="#c6dcee"/>
<rect x="364.16" y="798.58" width="11.77" height="10.91" fill="#edf3f8"/>
<rect x="375.88" y="798.58" width="11.77" height="10.91" fill="#e4eef7"/>
<rect x="387.60" y="798.58" width="11.77" height="10.91" fill="#fceee6"/>
<rect x="399.32" y="798.58" width="11.77" height="10.91" fill="#e1553d"/>
<rect x="411.04" y="798.58" width="11.77" height="10.91" fill="#f6a786"/>
<rect x="270.40" y="809.44" width="11.77" height="10.91" fill="#fceae0"/>
<rect x="282.12" y="809.44" width="11.77" height="10.91" fill="#d1e4f2"/>
<rect x="293.84" y="809.44" width="11.77" height="10.91" fill="#f6f8fa"/>
<rect x="305.56" y="809.44" width="11.77" height="10.91" fill="#edf3f8"/>
<rect x="317.28" y="809.44" width="11.77" height="10.91" fill="#edf3f8"/>
<rect x="329.00" y="809.44" width="11.77" height="10.91" fill="#edf3f8"/>
<rect x="340.72" y="809.44" width="11.77" height="10.91" fill="#f6f8fa"/>
<rect x="352.44" y="809.44" width="11.77" height="10.91" fill="#b6d3e9"/>
<rect x="364.16" y="809.44" width="11.77" height="10.91" fill="#f6f8fa"/>
<rect x="375.88" y="809.44" width="11.77" height="10.91" fill="#e4eef7"/>
<rect x="387.60" y="809.44" width="11.77" height="10.91" fill="#f9f3f0"/>
<rect x="399.32" y="809.44" width="11.77" height="10.91" fill="#e66547"/>
<rect x="411.04" y="809.44" width="11.77" height="10.91" fill="#f6a786"/>
<line x1="387.60" y1="277.30" x2="387.60" y2="820.30" stroke="#555" stroke-width="0.8" />
<text x="426.90" y="286.73" font-size="9.3" text-anchor="start" fill="#e8a33c" font-weight="normal" stroke="#e8a33c" stroke-width="0.25">C3</text>
<text x="426.90" y="297.59" font-size="9.3" text-anchor="start" fill="#111" font-weight="normal" stroke="#111" stroke-width="0.25">A1BG</text>
<text x="426.90" y="308.45" font-size="9.3" text-anchor="start" fill="#b03050" font-weight="normal" stroke="#b03050" stroke-width="0.25">FGG</text>
<text x="426.90" y="319.31" font-size="9.3" text-anchor="start" fill="#e8a33c" font-weight="normal" stroke="#e8a33c" stroke-width="0.25">C8G</text>
<text x="426.90" y="330.17" font-size="9.3" text-anchor="start" fill="#e8a33c" font-weight="normal" stroke="#e8a33c" stroke-width="0.25">GC</text>
<text x="426.90" y="341.03" font-size="9.3" text-anchor="start" fill="#e8a33c" font-weight="normal" stroke="#e8a33c" stroke-width="0.25">MASP1</text>
<text x="426.90" y="351.89" font-size="9.3" text-anchor="start" fill="#2f6fae" font-weight="normal" stroke="#2f6fae" stroke-width="0.25">CPN2</text>
<text x="426.9" y="362.75" font-size="9.4" fill="#111" stroke="#111" stroke-width="0.25" textLength="35.9" lengthAdjust="spacingAndGlyphs">Catechin</text>
<text x="426.90" y="373.61" font-size="9.3" text-anchor="start" fill="#111" font-weight="normal" stroke="#111" stroke-width="0.25">PLA2G7</text>
<text x="426.90" y="384.47" font-size="9.3" text-anchor="start" fill="#111" font-weight="normal" stroke="#111" stroke-width="0.25">PPIA</text>
<text x="426.90" y="395.33" font-size="9.3" text-anchor="start" fill="#111" font-weight="normal" stroke="#111" stroke-width="0.25">APOC3</text>
<text x="426.90" y="406.19" font-size="9.3" text-anchor="start" fill="#2f6fae" font-weight="normal" stroke="#2f6fae" stroke-width="0.25">IGLV3-10</text>
<text x="426.9" y="417.05" font-size="9.4" fill="#111" stroke="#111" stroke-width="0.25" textLength="50.6" lengthAdjust="spacingAndGlyphs">Taurocholate</text>
<text x="426.90" y="427.91" font-size="9.3" text-anchor="start" fill="#43a8d6" font-weight="normal" stroke="#43a8d6" stroke-width="0.25">SAA2</text>
<text x="426.90" y="438.77" font-size="9.3" text-anchor="start" fill="#111" font-weight="normal" stroke="#111" stroke-width="0.25">ADH1A</text>
<text x="426.90" y="449.63" font-size="9.3" text-anchor="start" fill="#111" font-weight="normal" stroke="#111" stroke-width="0.25">PRG4</text>
<text x="426.90" y="460.49" font-size="9.3" text-anchor="start" fill="#111" font-weight="normal" stroke="#111" stroke-width="0.25">MFAP4</text>
<text x="426.90" y="471.35" font-size="9.3" text-anchor="start" fill="#2f6fae" font-weight="normal" stroke="#2f6fae" stroke-width="0.25">HAMP</text>
<text x="426.90" y="482.21" font-size="9.3" text-anchor="start" fill="#b03050" font-weight="normal" stroke="#b03050" stroke-width="0.25">F5</text>
<text x="426.90" y="493.07" font-size="9.3" text-anchor="start" fill="#111" font-weight="normal" stroke="#111" stroke-width="0.25">ALCAM</text>
<text x="426.90" y="503.93" font-size="9.3" text-anchor="start" fill="#e8a33c" font-weight="normal" stroke="#e8a33c" stroke-width="0.25">FCN2</text>
<text x="426.90" y="514.79" font-size="9.3" text-anchor="start" fill="#43a8d6" font-weight="normal" stroke="#43a8d6" stroke-width="0.25">CRP</text>
<text x="426.90" y="525.65" font-size="9.3" text-anchor="start" fill="#111" font-weight="normal" stroke="#111" stroke-width="0.25">GPX3</text>
<text x="426.90" y="536.51" font-size="9.3" text-anchor="start" fill="#111" font-weight="normal" stroke="#111" stroke-width="0.25">MAN1A1</text>
<text x="426.90" y="547.37" font-size="9.3" text-anchor="start" fill="#b03050" font-weight="normal" stroke="#b03050" stroke-width="0.25">F11</text>
<text x="426.90" y="558.23" font-size="9.3" text-anchor="start" fill="#e8a33c" font-weight="normal" stroke="#e8a33c" stroke-width="0.25">FCN3</text>
<text x="426.90" y="569.09" font-size="9.3" text-anchor="start" fill="#e8a33c" font-weight="normal" stroke="#e8a33c" stroke-width="0.25">C1QB</text>
<text x="426.90" y="579.95" font-size="9.3" text-anchor="start" fill="#e8a33c" font-weight="normal" stroke="#e8a33c" stroke-width="0.25">C4BPA</text>
<text x="426.90" y="590.81" font-size="9.3" text-anchor="start" fill="#111" font-weight="normal" stroke="#111" stroke-width="0.25">RBAK</text>
<text x="426.90" y="601.67" font-size="9.3" text-anchor="start" fill="#111" font-weight="normal" stroke="#111" stroke-width="0.25">GNPTG</text>
<text x="426.90" y="612.53" font-size="9.3" text-anchor="start" fill="#43a8d6" font-weight="normal" stroke="#43a8d6" stroke-width="0.25">CD163</text>
<text x="426.90" y="623.39" font-size="9.3" text-anchor="start" fill="#111" font-weight="normal" stroke="#111" stroke-width="0.25">PLTP</text>
<text x="426.9" y="634.25" font-size="9.4" fill="#111" stroke="#111" stroke-width="0.25" textLength="35.5" lengthAdjust="spacingAndGlyphs">L-Proline</text>
<text x="426.90" y="645.11" font-size="9.3" text-anchor="start" fill="#111" font-weight="normal" stroke="#111" stroke-width="0.25">QSOX1</text>
<text x="426.90" y="655.97" font-size="9.3" text-anchor="start" fill="#e8a33c" font-weight="normal" stroke="#e8a33c" stroke-width="0.25">MASP2</text>
<text x="426.90" y="666.83" font-size="9.3" text-anchor="start" fill="#2f6fae" font-weight="normal" stroke="#2f6fae" stroke-width="0.25">CPN1</text>
<text x="426.90" y="677.69" font-size="9.3" text-anchor="start" fill="#111" font-weight="normal" stroke="#111" stroke-width="0.25">EFEMP1</text>
<text x="426.90" y="688.55" font-size="9.3" text-anchor="start" fill="#2f6fae" font-weight="normal" stroke="#2f6fae" stroke-width="0.25">LBP</text>
<text x="426.90" y="699.41" font-size="9.3" text-anchor="start" fill="#111" font-weight="normal" stroke="#111" stroke-width="0.25">CDK2</text>
<text x="426.90" y="710.27" font-size="9.3" text-anchor="start" fill="#e8a33c" font-weight="normal" stroke="#e8a33c" stroke-width="0.25">CD14</text>
<text x="426.90" y="721.13" font-size="9.3" text-anchor="start" fill="#111" font-weight="normal" stroke="#111" stroke-width="0.25">KRT86</text>
<text x="426.90" y="731.99" font-size="9.3" text-anchor="start" fill="#e8a33c" font-weight="normal" stroke="#e8a33c" stroke-width="0.25">C1QC</text>
<text x="426.90" y="742.85" font-size="9.3" text-anchor="start" fill="#e8a33c" font-weight="normal" stroke="#e8a33c" stroke-width="0.25">C8B</text>
<text x="426.90" y="753.71" font-size="9.3" text-anchor="start" fill="#43a8d6" font-weight="normal" stroke="#43a8d6" stroke-width="0.25">SAA1</text>
<text x="426.90" y="764.57" font-size="9.3" text-anchor="start" fill="#111" font-weight="normal" stroke="#111" stroke-width="0.25">CCL14</text>
<text x="426.90" y="775.43" font-size="9.3" text-anchor="start" fill="#e8a33c" font-weight="normal" stroke="#e8a33c" stroke-width="0.25">C8A</text>
<text x="426.90" y="786.29" font-size="9.3" text-anchor="start" fill="#e8a33c" font-weight="normal" stroke="#e8a33c" stroke-width="0.25">C1R</text>
<text x="426.90" y="797.15" font-size="9.3" text-anchor="start" fill="#e8a33c" font-weight="normal" stroke="#e8a33c" stroke-width="0.25">C2</text>
<text x="426.90" y="808.01" font-size="9.3" text-anchor="start" fill="#111" font-weight="normal" stroke="#111" stroke-width="0.25">VTN</text>
<text x="426.90" y="818.87" font-size="9.3" text-anchor="start" fill="#b03050" font-weight="normal" stroke="#b03050" stroke-width="0.25">SERPINF2</text>
<defs><linearGradient id="zg" x1="0" y1="0" x2="0" y2="1"><stop offset="0" stop-color="#c8182a"/><stop offset="0.15" stop-color="#dc4a3a"/><stop offset="0.3" stop-color="#ec7a58"/><stop offset="0.45" stop-color="#f6a888"/><stop offset="0.6" stop-color="#fcd8c8"/><stop offset="0.72" stop-color="#fafafa"/><stop offset="0.85" stop-color="#dde9f2"/><stop offset="1.0" stop-color="#a6c8de"/></linearGradient></defs>
<rect x="482.4" y="291.3" width="6.6" height="66.2" fill="url(#zg)"/>
<text x="481.60" y="286.40" font-size="9.0" text-anchor="start" fill="#111" font-weight="normal" stroke="#111" stroke-width="0.25">z-score</text>
<text x="492.60" y="299.80" font-size="9.2" text-anchor="start" fill="#111" font-weight="normal" stroke="#111" stroke-width="0.25">3.1</text>
<text x="492.60" y="342.50" font-size="9.2" text-anchor="start" fill="#111" font-weight="normal" stroke="#111" stroke-width="0.25">0</text>
<text x="492.60" y="360.20" font-size="9.2" text-anchor="start" fill="#111" font-weight="normal" stroke="#111" stroke-width="0.25">−1.7</text>
<path d="M266.60 282.73L266.60 293.59 M266.60 282.73L269.60 282.73 M266.60 293.59L269.60 293.59 M264.20 288.16L264.20 304.45 M264.20 288.16L266.60 288.16 M264.20 304.45L269.60 304.45 M265.50 315.31L265.50 326.17 M265.50 315.31L269.60 315.31 M265.50 326.17L269.60 326.17 M261.50 296.31L261.50 320.74 M261.50 296.31L264.20 296.31 M261.50 320.74L265.50 320.74 M264.20 337.03L264.20 347.89 M264.20 337.03L269.60 337.03 M264.20 347.89L269.60 347.89 M260.60 308.52L260.60 342.46 M260.60 308.52L261.50 308.52 M260.60 342.46L264.20 342.46 M266.20 358.75L266.20 369.61 M266.20 358.75L269.60 358.75 M266.20 369.61L269.60 369.61 M265.00 364.18L265.00 380.47 M265.00 364.18L266.20 364.18 M265.00 380.47L269.60 380.47 M264.00 372.33L264.00 391.33 M264.00 372.33L265.00 372.33 M264.00 391.33L269.60 391.33 M257.90 325.49L257.90 381.83 M257.90 325.49L260.60 325.49 M257.90 381.83L264.00 381.83 M264.60 402.19L264.60 413.05 M264.60 402.19L269.60 402.19 M264.60 413.05L269.60 413.05 M265.20 423.91L265.20 434.77 M265.20 423.91L269.60 423.91 M265.20 434.77L269.60 434.77 M263.70 407.62L263.70 429.34 M263.70 407.62L264.60 407.62 M263.70 429.34L265.20 429.34 M266.50 445.63L266.50 456.49 M266.50 445.63L269.60 445.63 M266.50 456.49L269.60 456.49 M266.00 451.06L266.00 467.35 M266.00 451.06L266.50 451.06 M266.00 467.35L269.60 467.35 M262.00 418.48L262.00 459.21 M262.00 418.48L263.70 418.48 M262.00 459.21L266.00 459.21 M265.00 478.21L265.00 489.07 M265.00 478.21L269.60 478.21 M265.00 489.07L269.60 489.07 M260.80 438.84L260.80 483.64 M260.80 438.84L262.00 438.84 M260.80 483.64L265.00 483.64 M266.00 499.93L266.00 510.79 M266.00 499.93L269.60 499.93 M266.00 510.79L269.60 510.79 M265.00 505.36L265.00 521.65 M265.00 505.36L266.00 505.36 M265.00 521.65L269.60 521.65 M264.20 513.50L264.20 532.51 M264.20 513.50L265.00 513.50 M264.20 532.51L269.60 532.51 M260.30 461.24L260.30 523.01 M260.30 461.24L260.80 461.24 M260.30 523.01L264.20 523.01 M257.60 353.66L257.60 492.12 M257.60 353.66L257.90 353.66 M257.60 492.12L260.30 492.12 M265.70 543.37L265.70 554.23 M265.70 543.37L269.60 543.37 M265.70 554.23L269.60 554.23 M266.00 565.09L266.00 575.95 M266.00 565.09L269.60 565.09 M266.00 575.95L269.60 575.95 M264.50 548.80L264.50 570.52 M264.50 548.80L265.70 548.80 M264.50 570.52L266.00 570.52 M263.30 559.66L263.30 586.81 M263.30 559.66L264.50 559.66 M263.30 586.81L269.60 586.81 M266.50 597.67L266.50 608.53 M266.50 597.67L269.60 597.67 M266.50 608.53L269.60 608.53 M266.00 603.10L266.00 619.39 M266.00 603.10L266.50 603.10 M266.00 619.39L269.60 619.39 M257.50 573.23L257.50 611.25 M257.50 573.23L263.30 573.23 M257.50 611.25L266.00 611.25 M255.20 422.89L255.20 592.24 M255.20 422.89L257.60 422.89 M255.20 592.24L257.50 592.24 M248.10 507.57L248.10 630.25 M248.10 507.57L255.20 507.57 M248.10 630.25L269.60 630.25 M266.90 641.11L266.90 651.97 M266.90 641.11L269.60 641.11 M266.90 651.97L269.60 651.97 M267.50 662.83L267.50 673.69 M267.50 662.83L269.60 662.83 M267.50 673.69L269.60 673.69 M265.40 668.26L265.40 684.55 M265.40 668.26L267.50 668.26 M265.40 684.55L269.60 684.55 M264.20 646.54L264.20 676.40 M264.20 646.54L266.90 646.54 M264.20 676.40L265.40 676.40 M266.30 695.41L266.30 706.27 M266.30 695.41L269.60 695.41 M266.30 706.27L269.60 706.27 M263.50 700.84L263.50 717.13 M263.50 700.84L266.30 700.84 M263.50 717.13L269.60 717.13 M262.00 661.47L262.00 708.98 M262.00 661.47L264.20 661.47 M262.00 708.98L263.50 708.98 M265.70 727.99L265.70 738.85 M265.70 727.99L269.60 727.99 M265.70 738.85L269.60 738.85 M264.00 733.42L264.00 749.71 M264.00 733.42L265.70 733.42 M264.00 749.71L269.60 749.71 M262.00 741.57L262.00 760.57 M262.00 741.57L264.00 741.57 M262.00 760.57L269.60 760.57 M260.20 685.23L260.20 751.07 M260.20 685.23L262.00 685.23 M260.20 751.07L262.00 751.07 M267.00 771.43L267.00 782.29 M267.00 771.43L269.60 771.43 M267.00 782.29L269.60 782.29 M267.50 793.15L267.50 804.01 M267.50 793.15L269.60 793.15 M267.50 804.01L269.60 804.01 M266.50 798.58L266.50 814.87 M266.50 798.58L267.50 798.58 M266.50 814.87L269.60 814.87 M265.70 776.86L265.70 806.72 M265.70 776.86L267.00 776.86 M265.70 806.72L266.50 806.72 M259.40 718.15L259.40 791.79 M259.40 718.15L260.20 718.15 M259.40 791.79L265.70 791.79 M246.90 568.91L246.90 754.97 M246.90 568.91L248.10 568.91 M246.90 754.97L259.40 754.97" stroke="#222" stroke-width="0.9" fill="none"/>
<rect x="0.5" y="0.5" width="519" height="829" fill="none" stroke="#2b2b2b" stroke-width="1"/>
</svg>
</body></html>
